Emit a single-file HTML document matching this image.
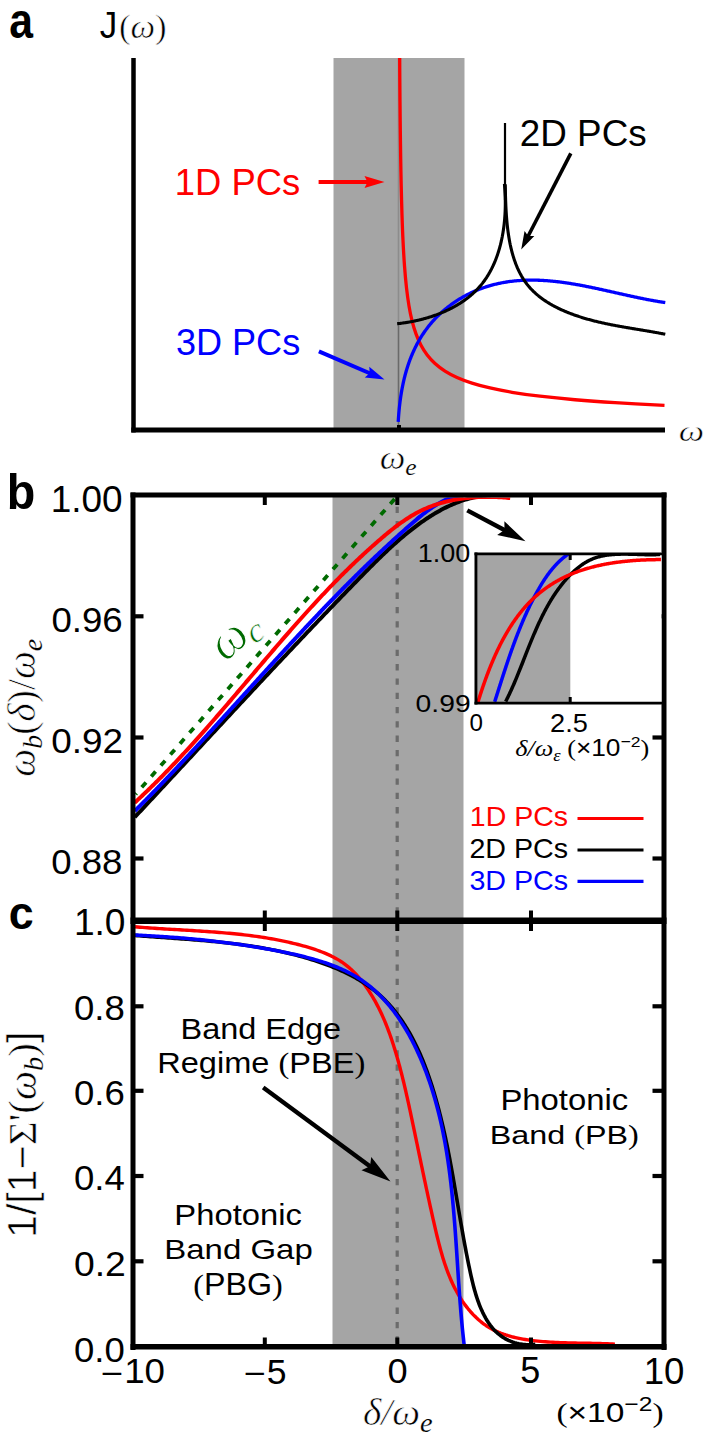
<!DOCTYPE html>
<html><head><meta charset="utf-8"><title>Figure</title>
<style>html,body{margin:0;padding:0;background:#fff;width:708px;height:1439px;overflow:hidden}svg{display:block}</style>
</head><body>
<svg width="708" height="1439" viewBox="0 0 708 1439">
<rect x="333.5" y="58" width="131" height="370" fill="#a5a5a5"/>
<line x1="398.5" y1="58" x2="398.5" y2="324" stroke="#8c8c8c" stroke-width="1.6" />
<line x1="398.5" y1="324" x2="398.5" y2="428" stroke="#6a6a6a" stroke-width="1.6" />
<line x1="133.5" y1="58" x2="133.5" y2="432.5" stroke="#000" stroke-width="4.5" />
<line x1="131.3" y1="430" x2="665" y2="430" stroke="#000" stroke-width="5" />
<path d="M399.70 58.00 C399.72 61.24 399.75 70.13 399.80 77.42 C399.85 84.72 399.92 92.94 400.00 101.77 C400.08 110.59 400.18 120.83 400.30 130.37 C400.42 139.90 400.55 149.81 400.70 158.97 C400.85 168.14 400.98 175.99 401.20 185.35 C401.42 194.71 401.70 205.93 402.00 215.12 C402.30 224.31 402.58 232.04 403.00 240.50 C403.42 248.96 403.92 257.99 404.50 265.88 C405.08 273.78 405.75 281.20 406.50 287.87 C407.25 294.55 408.08 300.49 409.00 305.94 C409.92 311.39 410.83 315.93 412.00 320.59 C413.17 325.25 414.50 329.79 416.00 333.90 C417.50 338.01 419.17 341.79 421.00 345.25 C422.83 348.72 424.67 351.66 427.00 354.70 C429.33 357.73 432.00 360.74 435.00 363.46 C438.00 366.19 441.33 368.72 445.00 371.05 C448.67 373.38 452.50 375.43 457.00 377.44 C461.50 379.45 466.50 381.35 472.00 383.11 C477.50 384.87 483.33 386.45 490.00 387.97 C496.67 389.50 503.67 390.89 512.00 392.27 C520.33 393.64 529.50 394.96 540.00 396.21 C550.50 397.45 562.50 398.66 575.00 399.74 C587.50 400.82 600.08 401.74 615.00 402.68 C629.92 403.61 656.25 404.91 664.50 405.35" fill="none" stroke="#ff0000" stroke-width="3.3" stroke-linejoin="round" />
<path d="M398.21 421.91 L398.26 421.04 L398.31 420.17 L398.37 419.30 L398.43 418.43 L398.49 417.56 L398.55 416.68 L398.62 415.81 L398.69 414.94 L398.76 414.06 L398.83 413.18 L398.91 412.30 L398.99 411.43 L399.07 410.55 L399.15 409.67 L399.24 408.79 L399.33 407.91 L399.42 407.02 L399.52 406.14 L399.62 405.26 L399.72 404.38 L399.83 403.49 L399.93 402.61 L400.04 401.73 L400.16 400.84 L400.28 399.96 L400.40 399.08 L400.52 398.19 L400.65 397.31 L400.78 396.43 L400.91 395.54 L401.05 394.66 L401.19 393.78 L401.34 392.89 L401.49 392.01 L401.64 391.13 L401.79 390.25 L401.95 389.37 L402.12 388.49 L402.28 387.61 L402.45 386.73 L402.63 385.85 L402.81 384.97 L402.99 384.09 L403.18 383.22 L403.37 382.34 L403.56 381.47 L403.76 380.59 L403.96 379.72 L404.17 378.85 L404.38 377.98 L404.60 377.11 L404.82 376.24 L405.04 375.38 L405.27 374.51 L405.51 373.65 L405.74 372.78 L405.99 371.92 L406.23 371.06 L406.49 370.20 L406.74 369.35 L407.00 368.49 L407.27 367.64 L407.54 366.79 L407.82 365.94 L408.10 365.09 L408.38 364.24 L408.67 363.40 L408.97 362.56 L409.27 361.72 L409.57 360.88 L409.88 360.04 L410.20 359.21 L410.52 358.38 L410.84 357.55 L411.17 356.72 L411.51 355.90 L411.85 355.07 L412.19 354.26 L412.54 353.44 L412.90 352.62 L413.26 351.81 L413.62 351.00 L414.00 350.20 L414.37 349.39 L414.75 348.59 L415.14 347.79 L415.53 347.00 L415.93 346.20 L416.33 345.42 L416.74 344.63 L417.15 343.85 L417.57 343.07 L418.00 342.29 L418.43 341.51 L418.86 340.74 L419.30 339.98 L419.75 339.21 L420.20 338.45 L420.66 337.70 L421.12 336.94 L421.59 336.19 L422.06 335.45 L422.54 334.71 L423.03 333.97 L423.52 333.23 L424.02 332.50 L424.52 331.77 L425.03 331.05 L425.54 330.33 L426.06 329.62 L426.59 328.90 L427.12 328.20 L427.66 327.49 L428.20 326.79 L428.74 326.10 L429.30 325.41 L429.86 324.72 L430.42 324.04 L430.99 323.36 L431.56 322.69 L432.14 322.02 L432.73 321.35 L433.32 320.69 L433.91 320.04 L434.51 319.39 L435.12 318.74 L435.73 318.10 L436.34 317.46 L436.96 316.83 L437.59 316.20 L438.22 315.57 L438.85 314.95 L439.49 314.34 L440.14 313.73 L440.78 313.13 L441.44 312.53 L442.10 311.93 L442.76 311.34 L443.43 310.76 L444.10 310.18 L444.78 309.60 L445.46 309.03 L446.15 308.47 L446.84 307.91 L447.53 307.36 L448.23 306.81 L448.94 306.26 L449.65 305.73 L450.36 305.19 L451.07 304.67 L451.80 304.14 L452.52 303.63 L453.25 303.11 L453.98 302.61 L454.72 302.11 L455.46 301.61 L456.20 301.12 L456.95 300.64 L457.70 300.16 L458.46 299.68 L459.22 299.21 L459.98 298.75 L460.74 298.29 L461.51 297.84 L462.28 297.39 L463.06 296.95 L463.84 296.52 L464.62 296.09 L465.40 295.66 L466.19 295.25 L466.98 294.83 L467.78 294.42 L468.58 294.02 L469.37 293.63 L470.18 293.24 L470.98 292.85 L471.79 292.47 L472.60 292.10 L473.41 291.73 L474.23 291.37 L475.05 291.01 L475.87 290.66 L476.69 290.32 L477.52 289.98 L478.34 289.65 L479.17 289.32 L480.01 289.00 L480.84 288.68 L481.68 288.38 L482.51 288.07 L483.35 287.78 L484.20 287.48 L485.04 287.20 L485.89 286.92 L486.73 286.65 L487.58 286.38 L488.43 286.12 L489.28 285.86 L490.14 285.61 L490.99 285.37 L491.85 285.13 L492.71 284.90 L493.56 284.68 L494.43 284.46 L495.29 284.25 L496.15 284.04 L497.01 283.84 L497.88 283.64 L498.75 283.45 L499.61 283.27 L500.48 283.09 L501.35 282.92 L502.22 282.75 L503.09 282.59 L503.96 282.43 L504.84 282.28 L505.71 282.14 L506.59 282.00 L507.46 281.86 L508.34 281.73 L509.21 281.61 L510.09 281.49 L510.97 281.38 L511.85 281.27 L512.73 281.17 L513.61 281.07 L514.49 280.98 L515.37 280.89 L516.25 280.81 L517.13 280.73 L518.01 280.65 L518.90 280.59 L519.78 280.52 L520.66 280.46 L521.55 280.41 L522.43 280.36 L523.31 280.32 L524.20 280.28 L525.08 280.24 L525.96 280.21 L526.85 280.19 L527.73 280.16 L528.61 280.15 L529.50 280.13 L530.38 280.13 L531.27 280.12 L532.15 280.12 L533.03 280.12 L533.92 280.13 L534.80 280.15 L535.69 280.16 L536.57 280.18 L537.46 280.21 L538.34 280.23 L539.22 280.27 L540.11 280.30 L540.99 280.34 L541.88 280.39 L542.76 280.43 L543.65 280.48 L544.53 280.54 L545.42 280.60 L546.30 280.66 L547.19 280.72 L548.07 280.79 L548.96 280.86 L549.84 280.94 L550.73 281.02 L551.61 281.10 L552.50 281.18 L553.38 281.27 L554.27 281.36 L555.15 281.46 L556.03 281.55 L556.92 281.65 L557.80 281.76 L558.69 281.86 L559.57 281.97 L560.46 282.08 L561.34 282.20 L562.23 282.31 L563.11 282.43 L564.00 282.56 L564.88 282.68 L565.76 282.81 L566.65 282.94 L567.53 283.07 L568.42 283.20 L569.30 283.34 L570.18 283.48 L571.07 283.62 L571.95 283.77 L572.84 283.91 L573.72 284.06 L574.60 284.21 L575.49 284.36 L576.37 284.52 L577.25 284.67 L578.14 284.83 L579.02 284.99 L579.90 285.15 L580.78 285.32 L581.67 285.48 L582.55 285.65 L583.43 285.82 L584.31 285.99 L585.19 286.16 L586.08 286.33 L586.96 286.51 L587.84 286.68 L588.72 286.86 L589.60 287.04 L590.48 287.22 L591.36 287.40 L592.25 287.58 L593.13 287.77 L594.01 287.95 L594.89 288.14 L595.77 288.32 L596.65 288.51 L597.53 288.70 L598.41 288.89 L599.29 289.08 L600.16 289.27 L601.04 289.46 L601.92 289.65 L602.80 289.85 L603.68 290.04 L604.56 290.24 L605.43 290.43 L606.31 290.63 L607.19 290.82 L608.07 291.02 L608.94 291.21 L609.82 291.41 L610.70 291.61 L611.57 291.80 L612.45 292.00 L613.32 292.20 L614.20 292.40 L615.08 292.59 L615.95 292.79 L616.82 292.99 L617.70 293.19 L618.57 293.38 L619.45 293.58 L620.32 293.78 L621.19 293.97 L622.07 294.17 L622.94 294.37 L623.81 294.56 L624.68 294.76 L625.56 294.95 L626.43 295.14 L627.30 295.34 L628.17 295.53 L629.04 295.72 L629.91 295.91 L630.78 296.10 L631.65 296.29 L632.52 296.48 L633.39 296.67 L634.26 296.85 L635.13 297.04 L635.99 297.22 L636.86 297.41 L637.73 297.59 L638.60 297.77 L639.46 297.95 L640.33 298.13 L641.19 298.31 L642.06 298.48 L642.93 298.66 L643.79 298.83 L644.65 299.00 L645.52 299.17 L646.38 299.34 L647.25 299.51 L648.11 299.67 L648.97 299.84 L649.83 300.00 L650.69 300.16 L651.56 300.32 L652.42 300.47 L653.28 300.63 L654.14 300.78 L655.00 300.93 L655.86 301.08 L656.71 301.22 L657.57 301.37 L658.43 301.51 L659.29 301.65 L660.15 301.78 L661.00 301.92 L661.86 302.05 L662.71 302.18 L663.57 302.31 L664.42 302.43 L665.28 302.55" fill="none" stroke="#0000ff" stroke-width="3.3" stroke-linejoin="round" />
<path d="M397.18 323.71 L397.84 323.64 L398.50 323.57 L399.16 323.49 L399.82 323.42 L400.49 323.34 L401.15 323.25 L401.81 323.17 L402.48 323.08 L403.14 322.99 L403.81 322.90 L404.48 322.80 L405.14 322.70 L405.81 322.60 L406.47 322.49 L407.14 322.39 L407.81 322.28 L408.48 322.16 L409.14 322.05 L409.81 321.93 L410.48 321.81 L411.15 321.69 L411.82 321.56 L412.48 321.43 L413.15 321.30 L413.82 321.16 L414.49 321.02 L415.16 320.88 L415.82 320.74 L416.49 320.59 L417.16 320.45 L417.82 320.29 L418.49 320.14 L419.16 319.98 L419.82 319.82 L420.49 319.66 L421.15 319.49 L421.82 319.32 L422.48 319.15 L423.14 318.98 L423.80 318.80 L424.47 318.62 L425.13 318.43 L425.79 318.25 L426.45 318.06 L427.10 317.87 L427.76 317.67 L428.42 317.47 L429.08 317.27 L429.73 317.07 L430.38 316.86 L431.04 316.65 L431.69 316.44 L432.34 316.22 L432.99 316.00 L433.64 315.78 L434.29 315.56 L434.93 315.33 L435.58 315.10 L436.22 314.86 L436.86 314.63 L437.50 314.39 L438.14 314.14 L438.78 313.90 L439.42 313.65 L440.05 313.40 L440.69 313.14 L441.32 312.88 L441.95 312.62 L442.58 312.36 L443.21 312.09 L443.83 311.82 L444.45 311.55 L445.08 311.27 L445.70 310.99 L446.31 310.71 L446.93 310.42 L447.54 310.13 L448.16 309.84 L448.77 309.55 L449.37 309.25 L449.98 308.95 L450.58 308.64 L451.19 308.33 L451.79 308.02 L452.38 307.71 L452.98 307.39 L453.57 307.07 L454.16 306.75 L454.75 306.42 L455.33 306.09 L455.92 305.76 L456.50 305.42 L457.08 305.08 L457.65 304.74 L458.22 304.39 L458.80 304.04 L459.36 303.69 L459.93 303.33 L460.49 302.98 L461.05 302.61 L461.61 302.25 L462.16 301.88 L462.71 301.51 L463.26 301.13 L463.80 300.75 L464.35 300.37 L464.89 299.99 L465.42 299.60 L465.95 299.21 L466.48 298.81 L467.01 298.41 L467.53 298.01 L468.05 297.60 L468.57 297.20 L469.09 296.78 L469.60 296.37 L470.10 295.95 L470.61 295.53 L471.11 295.10 L471.60 294.67 L472.10 294.24 L472.59 293.81 L473.07 293.37 L473.55 292.93 L474.03 292.48 L474.51 292.03 L474.98 291.58 L475.45 291.12 L475.91 290.66 L476.37 290.20 L476.83 289.73 L477.28 289.26 L477.73 288.79 L478.17 288.32 L478.61 287.83 L479.05 287.35 L479.48 286.86 L479.91 286.37 L480.33 285.88 L480.75 285.38 L481.16 284.88 L481.58 284.38 L481.98 283.87 L482.39 283.36 L482.78 282.84 L483.18 282.33 L483.57 281.81 L483.96 281.28 L484.34 280.76 L484.72 280.23 L485.09 279.69 L485.46 279.16 L485.83 278.62 L486.19 278.07 L486.55 277.53 L486.91 276.98 L487.26 276.43 L487.61 275.87 L487.95 275.32 L488.29 274.76 L488.63 274.19 L488.96 273.63 L489.29 273.06 L489.61 272.49 L489.93 271.92 L490.25 271.34 L490.56 270.76 L490.87 270.18 L491.17 269.60 L491.48 269.01 L491.77 268.42 L492.07 267.83 L492.36 267.24 L492.65 266.64 L492.93 266.04 L493.21 265.44 L493.48 264.84 L493.76 264.23 L494.03 263.62 L494.29 263.02 L494.55 262.40 L494.81 261.79 L495.07 261.17 L495.32 260.56 L495.56 259.93 L495.81 259.31 L496.05 258.69 L496.29 258.06 L496.52 257.43 L496.75 256.80 L496.98 256.17 L497.20 255.54 L497.42 254.90 L497.64 254.27 L497.85 253.63 L498.06 252.99 L498.27 252.35 L498.47 251.70 L498.67 251.06 L498.87 250.41 L499.06 249.76 L499.25 249.11 L499.44 248.46 L499.62 247.81 L499.80 247.15 L499.98 246.50 L500.15 245.84 L500.33 245.18 L500.49 244.52 L500.66 243.86 L500.82 243.20 L500.98 242.54 L501.13 241.88 L501.29 241.21 L501.43 240.54 L501.58 239.88 L501.72 239.21 L501.86 238.54 L502.00 237.87 L502.13 237.20 L502.27 236.52 L502.39 235.85 L502.52 235.18 L502.64 234.50 L502.76 233.83 L502.88 233.15 L502.99 232.48 L503.10 231.80 L503.21 231.12 L503.31 230.44 L503.41 229.76 L503.51 229.08 L503.61 228.40 L503.70 227.72 L503.79 227.04 L503.88 226.36 L503.96 225.68 L504.05 224.99 L504.13 224.31 L504.20 223.63 L504.28 222.95 L504.35 222.26 L504.42 221.58 L504.48 220.89 L504.55 220.21 L504.61 219.53 L504.67 218.84 L504.72 218.16 L504.77 217.47 L504.82 216.79 L504.87 216.11 L504.92 215.42 L504.96 214.74 L505.00 214.06 L505.04 213.37 L505.07 212.69 L505.11 212.01 L505.14 211.32 L505.16 210.64 L505.19 209.96 L505.21 209.28 L505.23 208.60 L505.25 207.92 L505.27 207.24 L505.28 206.56 L505.29 205.88 L505.30 205.20 L505.31 204.52 L505.31 203.84 L505.31 203.17 L505.31 202.49 L505.31 201.81 L505.30 201.14 L505.30 200.47 L505.29 199.79 L505.27 199.12 L505.26 198.45 L505.24 197.78 L505.23 197.11 L505.21 196.44 L505.18 195.78 L505.16 195.11 L505.13 194.44 L505.10 193.78 L505.07 193.12 L505.04 192.46 L505.00 191.79 L504.97 191.14 L504.93 190.48 L504.89 189.82 L504.84 189.17 L504.80 188.51 L504.75 187.86 L504.70 187.21 L504.65 186.56 L504.60 185.91 L504.54 185.26 L504.49 184.62 L504.43 183.97" fill="none" stroke="#000" stroke-width="3.1" stroke-linejoin="round" />
<path d="M505.21 184.26 L505.23 185.03 L505.25 185.81 L505.26 186.59 L505.28 187.37 L505.30 188.16 L505.32 188.95 L505.33 189.75 L505.35 190.55 L505.37 191.35 L505.39 192.16 L505.41 192.97 L505.43 193.78 L505.45 194.60 L505.48 195.42 L505.50 196.24 L505.52 197.07 L505.55 197.90 L505.58 198.73 L505.60 199.57 L505.63 200.40 L505.66 201.24 L505.69 202.09 L505.73 202.93 L505.76 203.78 L505.80 204.63 L505.83 205.48 L505.87 206.33 L505.91 207.19 L505.96 208.05 L506.00 208.91 L506.05 209.77 L506.10 210.63 L506.15 211.49 L506.20 212.36 L506.26 213.23 L506.31 214.10 L506.37 214.97 L506.43 215.84 L506.50 216.71 L506.57 217.58 L506.64 218.46 L506.71 219.33 L506.78 220.20 L506.86 221.08 L506.94 221.96 L507.02 222.83 L507.11 223.71 L507.20 224.59 L507.29 225.46 L507.39 226.34 L507.49 227.22 L507.59 228.10 L507.69 228.97 L507.80 229.85 L507.92 230.73 L508.03 231.60 L508.15 232.48 L508.28 233.35 L508.40 234.23 L508.53 235.10 L508.67 235.97 L508.81 236.84 L508.95 237.71 L509.10 238.58 L509.25 239.45 L509.40 240.31 L509.56 241.18 L509.73 242.04 L509.89 242.90 L510.07 243.76 L510.24 244.62 L510.43 245.48 L510.61 246.33 L510.80 247.19 L511.00 248.04 L511.20 248.88 L511.41 249.73 L511.62 250.57 L511.83 251.41 L512.05 252.25 L512.28 253.09 L512.51 253.92 L512.75 254.75 L512.99 255.58 L513.24 256.40 L513.49 257.22 L513.75 258.04 L514.01 258.85 L514.28 259.67 L514.56 260.47 L514.84 261.28 L515.13 262.08 L515.42 262.87 L515.72 263.67 L516.02 264.46 L516.33 265.24 L516.65 266.02 L516.98 266.80 L517.31 267.57 L517.64 268.34 L517.99 269.10 L518.34 269.86 L518.69 270.62 L519.05 271.37 L519.42 272.11 L519.80 272.85 L520.18 273.59 L520.57 274.32 L520.97 275.05 L521.37 275.77 L521.79 276.48 L522.20 277.19 L522.63 277.90 L523.06 278.59 L523.50 279.29 L523.95 279.97 L524.41 280.66 L524.87 281.33 L525.34 282.00 L525.82 282.66 L526.30 283.32 L526.80 283.97 L527.30 284.62 L527.81 285.25 L528.33 285.89 L528.85 286.51 L529.39 287.13 L529.93 287.74 L530.47 288.35 L531.03 288.95 L531.59 289.54 L532.16 290.13 L532.74 290.71 L533.33 291.29 L533.92 291.86 L534.52 292.42 L535.12 292.98 L535.73 293.53 L536.35 294.07 L536.98 294.61 L537.61 295.15 L538.25 295.67 L538.89 296.20 L539.54 296.71 L540.20 297.22 L540.86 297.73 L541.53 298.23 L542.20 298.72 L542.88 299.21 L543.56 299.69 L544.25 300.17 L544.95 300.64 L545.65 301.10 L546.35 301.57 L547.06 302.02 L547.78 302.47 L548.50 302.92 L549.22 303.36 L549.95 303.79 L550.68 304.22 L551.42 304.64 L552.16 305.06 L552.91 305.48 L553.66 305.89 L554.41 306.29 L555.17 306.69 L555.93 307.09 L556.70 307.48 L557.46 307.86 L558.24 308.24 L559.01 308.62 L559.79 308.99 L560.57 309.36 L561.36 309.72 L562.15 310.08 L562.94 310.43 L563.73 310.78 L564.53 311.12 L565.33 311.46 L566.13 311.80 L566.93 312.13 L567.74 312.46 L568.54 312.78 L569.35 313.10 L570.17 313.41 L570.98 313.72 L571.79 314.03 L572.61 314.33 L573.43 314.63 L574.25 314.93 L575.07 315.22 L575.89 315.50 L576.72 315.79 L577.54 316.07 L578.37 316.34 L579.20 316.61 L580.02 316.88 L580.85 317.14 L581.68 317.41 L582.51 317.66 L583.34 317.92 L584.17 318.17 L585.00 318.41 L585.84 318.66 L586.67 318.90 L587.50 319.14 L588.34 319.37 L589.17 319.60 L590.01 319.83 L590.84 320.05 L591.68 320.28 L592.52 320.50 L593.36 320.71 L594.19 320.93 L595.03 321.14 L595.87 321.34 L596.71 321.55 L597.55 321.75 L598.39 321.95 L599.23 322.15 L600.07 322.35 L600.92 322.54 L601.76 322.73 L602.60 322.92 L603.44 323.10 L604.29 323.29 L605.13 323.47 L605.97 323.65 L606.82 323.83 L607.66 324.00 L608.50 324.18 L609.35 324.35 L610.19 324.52 L611.03 324.69 L611.88 324.86 L612.72 325.02 L613.57 325.18 L614.41 325.35 L615.26 325.51 L616.10 325.66 L616.95 325.82 L617.79 325.98 L618.64 326.13 L619.48 326.29 L620.32 326.44 L621.17 326.59 L622.01 326.74 L622.86 326.89 L623.70 327.03 L624.54 327.18 L625.39 327.33 L626.23 327.47 L627.07 327.62 L627.92 327.76 L628.76 327.90 L629.60 328.05 L630.44 328.19 L631.28 328.33 L632.13 328.47 L632.97 328.61 L633.81 328.75 L634.65 328.89 L635.49 329.03 L636.33 329.16 L637.16 329.30 L638.00 329.44 L638.84 329.58 L639.68 329.72 L640.51 329.85 L641.35 329.99 L642.19 330.13 L643.02 330.27 L643.86 330.41 L644.69 330.55 L645.52 330.69 L646.36 330.83 L647.19 330.97 L648.02 331.11 L648.85 331.25 L649.68 331.39 L650.51 331.53 L651.34 331.67 L652.16 331.82 L652.99 331.96 L653.82 332.10 L654.64 332.25 L655.46 332.40 L656.29 332.55 L657.11 332.69 L657.93 332.84 L658.75 332.99 L659.57 333.15 L660.39 333.30 L661.21 333.45 L662.02 333.61 L662.84 333.77 L663.65 333.93 L664.47 334.09 L665.28 334.25" fill="none" stroke="#000" stroke-width="3.1" stroke-linejoin="round" />
<line x1="505" y1="123" x2="505" y2="200" stroke="#000" stroke-width="2.2" />
<rect x="397" y="425" width="4" height="4" fill="#000"/>
<line x1="318.6" y1="182" x2="369.5" y2="182.0" stroke="#ff0000" stroke-width="4" />
<polygon points="384.50,182.00 364.50,188.00 367.50,182.00 364.50,176.00" fill="#ff0000"/>
<line x1="318.9" y1="351.4" x2="371.50025574692813" y2="374.0116953058441" stroke="#0000ff" stroke-width="4" />
<polygon points="384.50,379.60 364.77,377.38 369.66,373.22 369.32,366.81" fill="#0000ff"/>
<line x1="570.8" y1="153.4" x2="527.2949421159113" y2="237.7787614606721" stroke="#000" stroke-width="3.6" />
<polygon points="521.20,249.60 524.56,231.08 528.21,236.00 534.34,236.12" fill="#000"/>
<rect x="332.5" y="495" width="131" height="851" fill="#a5a5a5"/>
<line x1="397.2" y1="497" x2="397.2" y2="1345" stroke="#6b6b6b" stroke-width="3.2" stroke-dasharray="6.3 8" stroke-dashoffset="4.5"/>
<path d="M135.70 794.20 L396.20 497.20" fill="none" stroke="#006a00" stroke-width="3.8" stroke-linejoin="round" stroke-dasharray="6.5 8" stroke-dashoffset="5.35"/>
<clipPath id="bclip"><rect x="135" y="497.6" width="527" height="420"/></clipPath>
<path d="M134.76 817.17 L135.91 815.94 L137.05 814.71 L138.20 813.48 L139.35 812.25 L140.49 811.02 L141.64 809.80 L142.78 808.57 L143.93 807.34 L145.07 806.11 L146.22 804.89 L147.36 803.66 L148.50 802.43 L149.64 801.21 L150.78 799.98 L151.92 798.76 L153.06 797.53 L154.20 796.31 L155.34 795.08 L156.48 793.86 L157.62 792.63 L158.76 791.41 L159.90 790.19 L161.03 788.96 L162.17 787.74 L163.30 786.52 L164.44 785.29 L165.58 784.07 L166.71 782.85 L167.85 781.63 L168.98 780.41 L170.11 779.19 L171.25 777.97 L172.38 776.75 L173.51 775.53 L174.65 774.31 L175.78 773.09 L176.91 771.87 L178.04 770.65 L179.17 769.43 L180.30 768.21 L181.43 766.99 L182.56 765.78 L183.69 764.56 L184.82 763.34 L185.95 762.12 L187.08 760.91 L188.21 759.69 L189.34 758.47 L190.47 757.26 L191.59 756.04 L192.72 754.83 L193.85 753.61 L194.98 752.40 L196.10 751.18 L197.23 749.97 L198.36 748.75 L199.49 747.54 L200.61 746.32 L201.74 745.11 L202.86 743.89 L203.99 742.68 L205.12 741.47 L206.24 740.26 L207.37 739.04 L208.49 737.83 L209.62 736.62 L210.74 735.41 L211.87 734.19 L212.99 732.98 L214.12 731.77 L215.24 730.56 L216.37 729.35 L217.49 728.14 L218.62 726.93 L219.74 725.72 L220.87 724.51 L221.99 723.29 L223.11 722.08 L224.24 720.88 L225.36 719.67 L226.49 718.46 L227.61 717.25 L228.74 716.04 L229.86 714.83 L230.98 713.62 L232.11 712.41 L233.23 711.20 L234.36 710.00 L235.48 708.79 L236.61 707.58 L237.73 706.37 L238.86 705.16 L239.98 703.96 L241.11 702.75 L242.23 701.54 L243.36 700.34 L244.48 699.13 L245.61 697.92 L246.73 696.72 L247.86 695.51 L248.98 694.30 L250.11 693.10 L251.23 691.89 L252.36 690.69 L253.49 689.48 L254.61 688.27 L255.74 687.07 L256.87 685.86 L257.99 684.66 L259.12 683.45 L260.25 682.25 L261.37 681.04 L262.50 679.84 L263.63 678.64 L264.76 677.43 L265.89 676.23 L267.02 675.02 L268.14 673.82 L269.27 672.62 L270.40 671.41 L271.53 670.21 L272.66 669.00 L273.79 667.80 L274.92 666.60 L276.05 665.39 L277.19 664.19 L278.32 662.99 L279.45 661.79 L280.58 660.58 L281.71 659.38 L282.85 658.18 L283.98 656.97 L285.11 655.77 L286.25 654.57 L287.38 653.37 L288.52 652.17 L289.65 650.96 L290.79 649.76 L291.92 648.56 L293.06 647.36 L294.20 646.16 L295.33 644.95 L296.47 643.75 L297.61 642.55 L298.75 641.35 L299.89 640.15 L301.03 638.95 L302.17 637.74 L303.31 636.54 L304.45 635.34 L305.59 634.14 L306.73 632.94 L307.87 631.74 L309.02 630.54 L310.16 629.34 L311.30 628.13 L312.45 626.93 L313.59 625.73 L314.74 624.53 L315.88 623.33 L317.03 622.13 L318.18 620.93 L319.33 619.73 L320.47 618.53 L321.62 617.33 L322.77 616.13 L323.92 614.93 L325.07 613.73 L326.23 612.52 L327.38 611.32 L328.53 610.12 L329.68 608.92 L330.84 607.72 L331.99 606.52 L333.15 605.32 L334.30 604.12 L335.46 602.92 L336.62 601.72 L337.78 600.52 L338.94 599.32 L340.09 598.12 L341.26 596.92 L342.42 595.72 L343.58 594.52 L344.74 593.32 L345.90 592.12 L347.07 590.92 L348.23 589.71 L349.40 588.51 L350.56 587.31 L351.73 586.11 L352.90 584.91 L354.07 583.71 L355.24 582.51 L356.41 581.31 L357.58 580.11 L358.75 578.91 L359.92 577.71 L361.10 576.51 L362.27 575.31 L363.45 574.11 L364.62 572.91 L365.80 571.71 L366.98 570.51 L368.16 569.32 L369.35 568.12 L370.53 566.93 L371.72 565.74 L372.91 564.55 L374.10 563.37 L375.29 562.18 L376.48 561.00 L377.68 559.82 L378.88 558.65 L380.08 557.48 L381.29 556.31 L382.49 555.15 L383.70 553.99 L384.92 552.83 L386.13 551.68 L387.35 550.53 L388.57 549.39 L389.80 548.25 L391.03 547.12 L392.26 545.99 L393.50 544.87 L394.74 543.75 L395.98 542.64 L397.23 541.54 L398.48 540.44 L399.74 539.35 L401.00 538.26 L402.26 537.18 L403.53 536.11 L404.81 535.05 L406.09 533.99 L407.37 532.94 L408.66 531.90 L409.95 530.87 L411.25 529.85 L412.55 528.83 L413.86 527.82 L415.17 526.82 L416.49 525.83 L417.82 524.85 L419.15 523.88 L420.48 522.92 L421.82 521.97 L423.17 521.03 L424.52 520.10 L425.88 519.18 L427.25 518.27 L428.62 517.37 L430.00 516.48 L431.39 515.61 L432.78 514.74 L434.18 513.89 L435.58 513.06 L437.00 512.23 L438.41 511.43 L439.84 510.63 L441.27 509.85 L442.72 509.09 L444.16 508.34 L445.62 507.60 L447.08 506.89 L448.55 506.19 L450.03 505.50 L451.52 504.84 L453.01 504.19 L454.52 503.56 L456.03 502.95 L457.54 502.36 L459.07 501.79 L460.61 501.24 L462.15 500.71 L463.70 500.20 L465.27 499.71 L466.84 499.24 L468.41 498.80 L470.00 498.37 L471.60 497.97 L473.21 497.60 L474.82 497.24 L476.45 496.91 L478.08 496.61 L479.72 496.33 L481.38 496.07 L483.04 495.84 L484.71 495.64 L486.40 495.46 L488.09 495.31 L489.79 495.19 L491.51 495.09 L493.23 495.03 L494.97 494.99 L496.71 494.98 L498.47 495.00 L500.23 495.04" fill="none" stroke="#000" stroke-width="4.0" stroke-linejoin="round" clip-path="url(#bclip)"/>
<path d="M134.71 811.06 L135.81 809.97 L136.91 808.87 L138.02 807.77 L139.12 806.67 L140.21 805.57 L141.31 804.46 L142.41 803.36 L143.51 802.25 L144.60 801.15 L145.70 800.04 L146.79 798.93 L147.88 797.82 L148.97 796.71 L150.06 795.60 L151.15 794.49 L152.24 793.38 L153.33 792.26 L154.42 791.15 L155.50 790.03 L156.59 788.91 L157.67 787.79 L158.75 786.67 L159.84 785.55 L160.92 784.43 L162.00 783.31 L163.08 782.19 L164.16 781.06 L165.24 779.94 L166.31 778.81 L167.39 777.69 L168.47 776.56 L169.54 775.43 L170.62 774.30 L171.69 773.18 L172.76 772.04 L173.84 770.91 L174.91 769.78 L175.98 768.65 L177.05 767.52 L178.12 766.38 L179.19 765.25 L180.26 764.11 L181.32 762.98 L182.39 761.84 L183.46 760.70 L184.52 759.56 L185.59 758.42 L186.65 757.29 L187.72 756.14 L188.78 755.00 L189.84 753.86 L190.91 752.72 L191.97 751.58 L193.03 750.44 L194.09 749.29 L195.15 748.15 L196.21 747.00 L197.27 745.86 L198.33 744.71 L199.39 743.57 L200.45 742.42 L201.50 741.27 L202.56 740.12 L203.62 738.98 L204.67 737.83 L205.73 736.68 L206.79 735.53 L207.84 734.38 L208.90 733.23 L209.95 732.08 L211.01 730.93 L212.06 729.78 L213.11 728.63 L214.17 727.47 L215.22 726.32 L216.27 725.17 L217.32 724.02 L218.38 722.86 L219.43 721.71 L220.48 720.55 L221.53 719.40 L222.58 718.25 L223.63 717.09 L224.69 715.94 L225.74 714.78 L226.79 713.63 L227.84 712.47 L228.89 711.32 L229.94 710.16 L230.99 709.00 L232.04 707.85 L233.09 706.69 L234.14 705.54 L235.19 704.38 L236.24 703.22 L237.28 702.07 L238.33 700.91 L239.38 699.75 L240.43 698.60 L241.48 697.44 L242.53 696.28 L243.58 695.12 L244.63 693.97 L245.68 692.81 L246.73 691.65 L247.78 690.50 L248.83 689.34 L249.88 688.18 L250.92 687.03 L251.97 685.87 L253.02 684.71 L254.07 683.56 L255.12 682.40 L256.17 681.24 L257.22 680.09 L258.27 678.93 L259.32 677.78 L260.37 676.62 L261.42 675.46 L262.48 674.31 L263.53 673.15 L264.58 672.00 L265.63 670.84 L266.68 669.69 L267.73 668.53 L268.78 667.38 L269.84 666.23 L270.89 665.07 L271.94 663.92 L273.00 662.77 L274.05 661.61 L275.10 660.46 L276.16 659.31 L277.21 658.16 L278.27 657.01 L279.32 655.86 L280.38 654.70 L281.43 653.55 L282.49 652.40 L283.55 651.26 L284.60 650.11 L285.66 648.96 L286.72 647.81 L287.78 646.66 L288.84 645.51 L289.90 644.37 L290.96 643.22 L292.02 642.08 L293.08 640.93 L294.14 639.79 L295.20 638.64 L296.26 637.50 L297.32 636.35 L298.39 635.21 L299.45 634.07 L300.52 632.93 L301.58 631.79 L302.65 630.65 L303.71 629.51 L304.78 628.37 L305.85 627.23 L306.92 626.09 L307.98 624.96 L309.05 623.82 L310.12 622.69 L311.19 621.55 L312.27 620.42 L313.34 619.28 L314.41 618.15 L315.48 617.02 L316.56 615.89 L317.63 614.76 L318.71 613.63 L319.79 612.50 L320.86 611.37 L321.94 610.24 L323.02 609.12 L324.10 607.99 L325.18 606.87 L326.26 605.74 L327.34 604.62 L328.43 603.50 L329.51 602.38 L330.59 601.26 L331.68 600.14 L332.77 599.02 L333.85 597.90 L334.94 596.79 L336.03 595.67 L337.12 594.55 L338.21 593.44 L339.30 592.33 L340.40 591.22 L341.49 590.11 L342.58 589.00 L343.68 587.89 L344.78 586.78 L345.87 585.68 L346.97 584.57 L348.07 583.47 L349.17 582.36 L350.28 581.26 L351.38 580.16 L352.48 579.06 L353.59 577.96 L354.69 576.86 L355.80 575.77 L356.91 574.67 L358.02 573.58 L359.13 572.49 L360.24 571.39 L361.36 570.30 L362.47 569.22 L363.59 568.13 L364.70 567.04 L365.82 565.96 L366.94 564.87 L368.06 563.79 L369.18 562.71 L370.30 561.63 L371.43 560.55 L372.55 559.47 L373.68 558.40 L374.81 557.32 L375.94 556.25 L377.07 555.18 L378.20 554.11 L379.33 553.04 L380.47 551.97 L381.60 550.90 L382.74 549.84 L383.88 548.78 L385.02 547.71 L386.16 546.65 L387.30 545.59 L388.44 544.54 L389.59 543.48 L390.74 542.43 L391.88 541.37 L393.03 540.32 L394.19 539.27 L395.34 538.22 L396.49 537.18 L397.65 536.13 L398.81 535.09 L399.96 534.05 L401.12 533.01 L402.29 531.97 L403.45 530.93 L404.61 529.90 L405.78 528.86 L406.95 527.83 L408.12 526.80 L409.29 525.77 L410.46 524.75 L411.64 523.72 L412.81 522.70 L413.99 521.68 L415.18 520.66 L416.36 519.65 L417.55 518.65 L418.74 517.65 L419.94 516.66 L421.14 515.68 L422.35 514.71 L423.56 513.75 L424.78 512.80 L426.01 511.87 L427.25 510.94 L428.49 510.03 L429.74 509.14 L431.00 508.26 L432.26 507.40 L433.54 506.56 L434.83 505.73 L436.13 504.93 L437.43 504.14 L438.75 503.38 L440.09 502.64 L441.43 501.92 L442.78 501.23 L444.15 500.56 L445.54 499.92 L446.93 499.30 L448.34 498.71 L449.77 498.15 L451.21 497.62 L452.66 497.12 L454.14 496.66 L455.62 496.22 L457.13 495.82 L458.65 495.45 L460.19 495.12 L461.75 494.82 L463.33 494.56 L464.93 494.33 L466.54 494.15 L468.18 494.00 L469.84 493.90" fill="none" stroke="#0000ff" stroke-width="4.0" stroke-linejoin="round" clip-path="url(#bclip)"/>
<path d="M134.55 802.82 L135.79 801.68 L137.02 800.55 L138.24 799.41 L139.47 798.26 L140.69 797.12 L141.91 795.97 L143.13 794.82 L144.34 793.67 L145.55 792.51 L146.76 791.35 L147.96 790.19 L149.17 789.02 L150.37 787.86 L151.57 786.69 L152.76 785.51 L153.95 784.34 L155.15 783.16 L156.33 781.98 L157.52 780.80 L158.70 779.61 L159.88 778.43 L161.06 777.24 L162.24 776.05 L163.41 774.85 L164.59 773.65 L165.76 772.46 L166.92 771.26 L168.09 770.05 L169.25 768.85 L170.41 767.64 L171.57 766.43 L172.73 765.22 L173.89 764.00 L175.04 762.79 L176.19 761.57 L177.34 760.35 L178.49 759.13 L179.63 757.91 L180.78 756.68 L181.92 755.46 L183.06 754.23 L184.20 753.00 L185.34 751.76 L186.47 750.53 L187.61 749.29 L188.74 748.06 L189.87 746.82 L191.00 745.58 L192.13 744.34 L193.25 743.09 L194.38 741.85 L195.50 740.60 L196.62 739.35 L197.74 738.10 L198.86 736.85 L199.98 735.60 L201.09 734.34 L202.21 733.09 L203.32 731.83 L204.44 730.58 L205.55 729.32 L206.66 728.06 L207.77 726.80 L208.88 725.53 L209.98 724.27 L211.09 723.01 L212.19 721.74 L213.30 720.48 L214.40 719.21 L215.50 717.94 L216.60 716.67 L217.70 715.40 L218.80 714.13 L219.90 712.86 L221.00 711.58 L222.10 710.31 L223.19 709.04 L224.29 707.76 L225.38 706.49 L226.48 705.21 L227.57 703.93 L228.67 702.66 L229.76 701.38 L230.85 700.10 L231.94 698.82 L233.03 697.54 L234.13 696.26 L235.22 694.98 L236.31 693.70 L237.40 692.42 L238.49 691.14 L239.57 689.85 L240.66 688.57 L241.75 687.29 L242.84 686.01 L243.93 684.72 L245.02 683.44 L246.10 682.16 L247.19 680.88 L248.28 679.59 L249.37 678.31 L250.46 677.03 L251.54 675.74 L252.63 674.46 L253.72 673.18 L254.81 671.89 L255.90 670.61 L256.98 669.33 L258.07 668.04 L259.16 666.76 L260.25 665.48 L261.34 664.20 L262.43 662.92 L263.52 661.64 L264.61 660.35 L265.70 659.07 L266.79 657.79 L267.88 656.51 L268.98 655.23 L270.07 653.96 L271.16 652.68 L272.26 651.40 L273.35 650.12 L274.44 648.85 L275.54 647.57 L276.64 646.30 L277.73 645.02 L278.83 643.75 L279.93 642.48 L281.03 641.20 L282.13 639.93 L283.23 638.66 L284.33 637.39 L285.44 636.13 L286.54 634.86 L287.64 633.59 L288.75 632.33 L289.86 631.06 L290.96 629.80 L292.07 628.54 L293.18 627.28 L294.29 626.02 L295.41 624.76 L296.52 623.50 L297.64 622.24 L298.75 620.99 L299.87 619.73 L300.99 618.48 L302.11 617.23 L303.23 615.98 L304.35 614.73 L305.48 613.49 L306.60 612.24 L307.73 611.00 L308.86 609.75 L309.99 608.51 L311.12 607.27 L312.25 606.04 L313.39 604.80 L314.53 603.57 L315.66 602.34 L316.80 601.10 L317.95 599.88 L319.09 598.65 L320.24 597.42 L321.38 596.20 L322.53 594.98 L323.68 593.76 L324.84 592.54 L325.99 591.33 L327.15 590.11 L328.31 588.90 L329.47 587.69 L330.63 586.48 L331.80 585.28 L332.96 584.07 L334.13 582.87 L335.30 581.67 L336.48 580.48 L337.65 579.28 L338.83 578.09 L340.01 576.90 L341.20 575.71 L342.38 574.53 L343.57 573.35 L344.76 572.17 L345.95 570.99 L347.15 569.81 L348.34 568.64 L349.54 567.47 L350.75 566.30 L351.95 565.14 L353.16 563.98 L354.37 562.82 L355.58 561.66 L356.80 560.51 L358.02 559.36 L359.24 558.21 L360.46 557.06 L361.69 555.92 L362.92 554.78 L364.15 553.64 L365.39 552.51 L366.63 551.38 L367.87 550.25 L369.11 549.12 L370.36 548.00 L371.61 546.88 L372.86 545.77 L374.12 544.65 L375.38 543.55 L376.64 542.44 L377.91 541.34 L379.18 540.24 L380.45 539.14 L381.72 538.05 L383.00 536.96 L384.29 535.87 L385.57 534.79 L386.86 533.72 L388.16 532.65 L389.46 531.59 L390.77 530.54 L392.08 529.50 L393.40 528.46 L394.72 527.44 L396.05 526.42 L397.38 525.41 L398.72 524.42 L400.07 523.44 L401.43 522.47 L402.79 521.51 L404.16 520.57 L405.54 519.64 L406.93 518.72 L408.32 517.83 L409.73 516.94 L411.14 516.08 L412.56 515.23 L413.99 514.40 L415.43 513.59 L416.88 512.79 L418.34 512.02 L419.82 511.27 L421.30 510.53 L422.79 509.82 L424.29 509.13 L425.81 508.47 L427.33 507.82 L428.86 507.19 L430.41 506.59 L431.96 506.00 L433.52 505.43 L435.09 504.89 L436.67 504.36 L438.26 503.86 L439.85 503.37 L441.45 502.90 L443.06 502.45 L444.68 502.02 L446.30 501.61 L447.93 501.22 L449.56 500.84 L451.20 500.49 L452.85 500.15 L454.50 499.83 L456.16 499.53 L457.82 499.24 L459.49 498.97 L461.16 498.72 L462.83 498.49 L464.51 498.27 L466.19 498.07 L467.88 497.89 L469.57 497.72 L471.26 497.57 L472.95 497.43 L474.64 497.31 L476.34 497.20 L478.04 497.11 L479.74 497.04 L481.44 496.98 L483.14 496.93 L484.84 496.90 L486.54 496.89 L488.24 496.89 L489.94 496.90 L491.64 496.92 L493.34 496.96 L495.03 497.02 L496.73 497.08 L498.42 497.16 L500.12 497.26 L501.80 497.36 L503.49 497.48 L505.18 497.61 L506.86 497.75 L508.53 497.91 L510.21 498.07" fill="none" stroke="#ff0000" stroke-width="4.0" stroke-linejoin="round" clip-path="url(#bclip)"/>
<line x1="467.3" y1="510.4" x2="506.2318130602909" y2="531.0030900731437" stroke="#000" stroke-width="4.4" />
<polygon points="525.50,541.20 497.13,534.95 504.46,530.07 504.38,521.25" fill="#000"/>
<line x1="577.5" y1="818.5" x2="643.5" y2="818.5" stroke="#ff0000" stroke-width="3.2" />
<line x1="577.5" y1="850" x2="643.5" y2="850" stroke="#000" stroke-width="3.2" />
<line x1="577.5" y1="881.3" x2="643.5" y2="881.3" stroke="#0000ff" stroke-width="3.2" />
<clipPath id="cclip"><rect x="135" y="924" width="527" height="420"/></clipPath>
<path d="M135.06 926.80 L137.52 927.01 L139.97 927.21 L142.43 927.40 L144.89 927.59 L147.36 927.78 L149.82 927.95 L152.29 928.13 L154.76 928.29 L157.23 928.46 L159.71 928.62 L162.18 928.78 L164.66 928.93 L167.13 929.08 L169.61 929.23 L172.09 929.38 L174.57 929.53 L177.06 929.67 L179.54 929.82 L182.02 929.96 L184.51 930.11 L187.00 930.26 L189.48 930.41 L191.97 930.56 L194.46 930.71 L196.94 930.86 L199.43 931.02 L201.92 931.18 L204.41 931.35 L206.90 931.52 L209.38 931.69 L211.87 931.87 L214.36 932.05 L216.85 932.24 L219.33 932.44 L221.82 932.64 L224.30 932.85 L226.79 933.07 L229.27 933.29 L231.75 933.53 L234.24 933.77 L236.72 934.02 L239.20 934.28 L241.67 934.55 L244.15 934.84 L246.63 935.13 L249.10 935.43 L251.57 935.75 L254.04 936.08 L256.51 936.42 L258.98 936.77 L261.44 937.14 L263.90 937.52 L266.36 937.91 L268.82 938.32 L271.28 938.74 L273.73 939.18 L276.18 939.64 L278.63 940.11 L281.07 940.60 L283.51 941.10 L285.95 941.62 L288.39 942.16 L290.82 942.72 L293.25 943.30 L295.68 943.90 L298.10 944.51 L300.52 945.15 L302.94 945.80 L305.35 946.48 L307.76 947.18 L310.16 947.90 L312.55 948.65 L314.93 949.43 L317.30 950.24 L319.65 951.09 L321.98 951.97 L324.29 952.89 L326.58 953.85 L328.84 954.86 L331.07 955.91 L333.27 957.01 L335.43 958.17 L337.56 959.38 L339.65 960.64 L341.69 961.97 L343.70 963.36 L345.65 964.81 L347.56 966.33 L349.42 967.91 L351.24 969.55 L353.01 971.24 L354.74 972.98 L356.42 974.77 L358.07 976.60 L359.67 978.47 L361.24 980.39 L362.77 982.33 L364.26 984.30 L365.72 986.30 L367.14 988.33 L368.52 990.38 L369.88 992.45 L371.20 994.55 L372.49 996.67 L373.74 998.80 L374.97 1000.96 L376.17 1003.14 L377.33 1005.34 L378.47 1007.55 L379.58 1009.79 L380.66 1012.04 L381.72 1014.30 L382.75 1016.58 L383.76 1018.87 L384.74 1021.18 L385.70 1023.50 L386.63 1025.83 L387.54 1028.17 L388.43 1030.53 L389.30 1032.89 L390.15 1035.26 L390.98 1037.64 L391.80 1040.03 L392.59 1042.42 L393.36 1044.82 L394.12 1047.22 L394.87 1049.63 L395.59 1052.04 L396.31 1054.45 L397.01 1056.86 L397.69 1059.28 L398.37 1061.69 L399.03 1064.11 L399.68 1066.53 L400.32 1068.94 L400.95 1071.36 L401.57 1073.77 L402.17 1076.19 L402.77 1078.60 L403.36 1081.02 L403.95 1083.43 L404.52 1085.85 L405.09 1088.26 L405.65 1090.68 L406.20 1093.09 L406.75 1095.51 L407.29 1097.92 L407.82 1100.33 L408.35 1102.75 L408.88 1105.16 L409.40 1107.58 L409.92 1109.99 L410.44 1112.40 L410.95 1114.82 L411.46 1117.23 L411.97 1119.64 L412.48 1122.05 L412.98 1124.47 L413.49 1126.88 L413.99 1129.29 L414.50 1131.70 L415.00 1134.12 L415.50 1136.53 L416.00 1138.94 L416.50 1141.36 L417.01 1143.77 L417.51 1146.18 L418.01 1148.60 L418.51 1151.01 L419.01 1153.43 L419.52 1155.84 L420.02 1158.26 L420.52 1160.68 L421.03 1163.09 L421.53 1165.51 L422.04 1167.93 L422.54 1170.35 L423.05 1172.77 L423.56 1175.19 L424.07 1177.62 L424.59 1180.04 L425.10 1182.47 L425.62 1184.90 L426.13 1187.32 L426.65 1189.75 L427.18 1192.18 L427.70 1194.62 L428.23 1197.05 L428.76 1199.49 L429.29 1201.92 L429.82 1204.36 L430.36 1206.80 L430.90 1209.24 L431.44 1211.69 L431.99 1214.13 L432.54 1216.58 L433.10 1219.03 L433.65 1221.48 L434.21 1223.94 L434.78 1226.39 L435.35 1228.85 L435.92 1231.31 L436.50 1233.77 L437.09 1236.23 L437.69 1238.68 L438.31 1241.14 L438.93 1243.58 L439.57 1246.03 L440.22 1248.47 L440.89 1250.90 L441.57 1253.32 L442.28 1255.74 L443.00 1258.15 L443.74 1260.54 L444.51 1262.93 L445.30 1265.30 L446.12 1267.66 L446.96 1270.01 L447.83 1272.34 L448.73 1274.65 L449.66 1276.95 L450.62 1279.23 L451.62 1281.49 L452.64 1283.74 L453.71 1285.96 L454.81 1288.16 L455.94 1290.34 L457.12 1292.50 L458.34 1294.63 L459.60 1296.74 L460.90 1298.82 L462.24 1300.87 L463.64 1302.90 L465.07 1304.90 L466.56 1306.86 L468.09 1308.79 L469.67 1310.68 L471.29 1312.53 L472.96 1314.33 L474.67 1316.09 L476.44 1317.80 L478.24 1319.45 L480.10 1321.04 L482.00 1322.58 L483.94 1324.05 L485.94 1325.46 L487.97 1326.79 L490.06 1328.06 L492.19 1329.25 L494.36 1330.37 L496.57 1331.41 L498.82 1332.39 L501.11 1333.31 L503.43 1334.16 L505.78 1334.96 L508.16 1335.70 L510.56 1336.38 L512.99 1337.02 L515.43 1337.60 L517.90 1338.14 L520.38 1338.64 L522.86 1339.10 L525.36 1339.51 L527.87 1339.90 L530.38 1340.25 L532.89 1340.58 L535.40 1340.87 L537.91 1341.14 L540.42 1341.39 L542.93 1341.61 L545.44 1341.81 L547.95 1342.00 L550.46 1342.16 L552.96 1342.30 L555.47 1342.43 L557.97 1342.55 L560.47 1342.65 L562.97 1342.74 L565.47 1342.82 L567.97 1342.88 L570.46 1342.94 L572.95 1343.00 L575.44 1343.05 L577.93 1343.09 L580.42 1343.13 L582.90 1343.17 L585.38 1343.21 L587.86 1343.25 L590.33 1343.29 L592.80 1343.34 L595.27 1343.39 L597.74 1343.45 L600.20 1343.52 L602.66 1343.60 L605.11 1343.69 L607.57 1343.79 L610.01 1343.90 L612.46 1344.03 L614.90 1344.17" fill="none" stroke="#ff0000" stroke-width="3.4" stroke-linejoin="round" clip-path="url(#cclip)"/>
<path d="M134.91 935.43 L137.15 935.60 L139.39 935.78 L141.62 935.95 L143.85 936.12 L146.09 936.28 L148.32 936.45 L150.54 936.61 L152.77 936.77 L154.99 936.93 L157.21 937.09 L159.43 937.25 L161.65 937.41 L163.87 937.57 L166.08 937.72 L168.29 937.88 L170.50 938.04 L172.71 938.19 L174.92 938.35 L177.12 938.51 L179.33 938.67 L181.53 938.83 L183.73 939.00 L185.93 939.16 L188.13 939.33 L190.32 939.50 L192.52 939.67 L194.71 939.85 L196.90 940.03 L199.09 940.21 L201.28 940.39 L203.47 940.58 L205.66 940.77 L207.84 940.97 L210.03 941.17 L212.21 941.37 L214.39 941.58 L216.57 941.80 L218.75 942.02 L220.93 942.25 L223.11 942.48 L225.28 942.71 L227.46 942.96 L229.63 943.21 L231.81 943.46 L233.98 943.73 L236.15 944.00 L238.32 944.28 L240.49 944.56 L242.66 944.85 L244.83 945.16 L246.99 945.46 L249.16 945.78 L251.33 946.11 L253.49 946.44 L255.66 946.79 L257.82 947.14 L259.98 947.50 L262.15 947.88 L264.31 948.26 L266.47 948.65 L268.63 949.06 L270.79 949.47 L272.95 949.90 L275.11 950.33 L277.27 950.78 L279.43 951.24 L281.59 951.71 L283.75 952.19 L285.91 952.69 L288.06 953.20 L290.22 953.72 L292.38 954.25 L294.54 954.80 L296.69 955.36 L298.85 955.93 L301.01 956.52 L303.17 957.12 L305.32 957.74 L307.48 958.37 L309.64 959.01 L311.79 959.68 L313.94 960.35 L316.09 961.05 L318.24 961.75 L320.38 962.48 L322.51 963.22 L324.64 963.99 L326.76 964.76 L328.87 965.56 L330.98 966.38 L333.07 967.21 L335.16 968.07 L337.23 968.94 L339.29 969.84 L341.34 970.75 L343.38 971.69 L345.40 972.65 L347.41 973.63 L349.40 974.63 L351.37 975.65 L353.33 976.70 L355.27 977.77 L357.19 978.87 L359.10 979.99 L360.98 981.13 L362.84 982.30 L364.68 983.49 L366.49 984.71 L368.29 985.95 L370.06 987.22 L371.80 988.52 L373.52 989.84 L375.21 991.20 L376.88 992.58 L378.52 993.98 L380.13 995.42 L381.71 996.88 L383.27 998.36 L384.81 999.88 L386.31 1001.41 L387.80 1002.97 L389.26 1004.56 L390.69 1006.17 L392.10 1007.80 L393.49 1009.45 L394.85 1011.12 L396.19 1012.82 L397.50 1014.54 L398.80 1016.28 L400.07 1018.03 L401.32 1019.81 L402.54 1021.61 L403.75 1023.42 L404.93 1025.26 L406.10 1027.11 L407.24 1028.97 L408.36 1030.86 L409.46 1032.76 L410.54 1034.67 L411.61 1036.60 L412.65 1038.55 L413.68 1040.51 L414.68 1042.48 L415.67 1044.46 L416.64 1046.46 L417.59 1048.47 L418.53 1050.49 L419.44 1052.53 L420.35 1054.57 L421.23 1056.62 L422.10 1058.69 L422.95 1060.76 L423.79 1062.84 L424.61 1064.93 L425.41 1067.02 L426.21 1069.13 L426.98 1071.24 L427.75 1073.35 L428.50 1075.48 L429.23 1077.60 L429.95 1079.74 L430.66 1081.87 L431.36 1084.01 L432.04 1086.15 L432.72 1088.30 L433.38 1090.45 L434.03 1092.60 L434.66 1094.75 L435.29 1096.90 L435.91 1099.05 L436.51 1101.20 L437.11 1103.36 L437.69 1105.51 L438.27 1107.66 L438.84 1109.81 L439.40 1111.96 L439.94 1114.11 L440.48 1116.25 L441.02 1118.40 L441.54 1120.55 L442.05 1122.70 L442.56 1124.85 L443.06 1126.99 L443.55 1129.14 L444.04 1131.29 L444.52 1133.44 L444.99 1135.58 L445.45 1137.73 L445.91 1139.88 L446.36 1142.03 L446.81 1144.17 L447.25 1146.32 L447.68 1148.47 L448.11 1150.62 L448.53 1152.76 L448.95 1154.91 L449.37 1157.06 L449.78 1159.21 L450.18 1161.36 L450.58 1163.51 L450.98 1165.66 L451.38 1167.81 L451.77 1169.96 L452.15 1172.11 L452.54 1174.26 L452.92 1176.41 L453.30 1178.57 L453.68 1180.72 L454.05 1182.88 L454.43 1185.03 L454.80 1187.19 L455.17 1189.34 L455.53 1191.50 L455.90 1193.66 L456.27 1195.81 L456.64 1197.97 L457.00 1200.13 L457.37 1202.30 L457.73 1204.46 L458.10 1206.62 L458.46 1208.78 L458.83 1210.95 L459.20 1213.12 L459.57 1215.28 L459.94 1217.45 L460.31 1219.62 L460.68 1221.79 L461.06 1223.96 L461.43 1226.14 L461.81 1228.31 L462.20 1230.49 L462.58 1232.67 L462.97 1234.84 L463.36 1237.02 L463.76 1239.21 L464.16 1241.39 L464.56 1243.57 L464.97 1245.76 L465.38 1247.95 L465.79 1250.14 L466.21 1252.33 L466.64 1254.52 L467.07 1256.71 L467.50 1258.91 L467.94 1261.11 L468.39 1263.31 L468.85 1265.51 L469.30 1267.71 L469.77 1269.91 L470.24 1272.12 L470.72 1274.33 L471.22 1276.53 L471.72 1278.74 L472.23 1280.94 L472.77 1283.14 L473.31 1285.32 L473.88 1287.51 L474.47 1289.68 L475.08 1291.84 L475.71 1293.99 L476.37 1296.13 L477.06 1298.25 L477.77 1300.36 L478.52 1302.45 L479.30 1304.52 L480.11 1306.56 L480.96 1308.59 L481.84 1310.60 L482.77 1312.58 L483.74 1314.53 L484.74 1316.46 L485.80 1318.36 L486.90 1320.22 L488.05 1322.05 L489.26 1323.83 L490.52 1325.56 L491.84 1327.23 L493.22 1328.86 L494.67 1330.42 L496.18 1331.91 L497.75 1333.34 L499.38 1334.69 L501.07 1335.98 L502.82 1337.18 L504.63 1338.31 L506.50 1339.36 L508.42 1340.32 L510.40 1341.19 L512.42 1341.98 L514.50 1342.67 L516.63 1343.26 L518.81 1343.76 L521.04 1344.15 L523.31 1344.44 L525.63 1344.62 L528.00 1344.69 L530.40 1344.65 L532.85 1344.49 L535.34 1344.22" fill="none" stroke="#000" stroke-width="3.6" stroke-linejoin="round" clip-path="url(#cclip)"/>
<path d="M134.95 935.01 L137.09 935.11 L139.22 935.22 L141.35 935.33 L143.47 935.45 L145.59 935.56 L147.71 935.68 L149.82 935.81 L151.93 935.93 L154.04 936.06 L156.14 936.19 L158.24 936.32 L160.33 936.45 L162.42 936.59 L164.51 936.73 L166.60 936.88 L168.68 937.03 L170.76 937.18 L172.84 937.33 L174.91 937.49 L176.98 937.65 L179.05 937.82 L181.12 937.98 L183.19 938.16 L185.25 938.33 L187.31 938.51 L189.37 938.69 L191.43 938.88 L193.49 939.07 L195.54 939.26 L197.59 939.46 L199.64 939.66 L201.70 939.87 L203.74 940.08 L205.79 940.30 L207.84 940.51 L209.89 940.74 L211.93 940.97 L213.98 941.20 L216.02 941.43 L218.07 941.67 L220.11 941.92 L222.16 942.17 L224.20 942.43 L226.24 942.69 L228.29 942.95 L230.33 943.22 L232.38 943.50 L234.42 943.77 L236.47 944.06 L238.51 944.35 L240.56 944.64 L242.61 944.95 L244.66 945.25 L246.71 945.56 L248.76 945.88 L250.81 946.20 L252.86 946.53 L254.92 946.86 L256.97 947.20 L259.03 947.54 L261.09 947.89 L263.16 948.25 L265.22 948.61 L267.29 948.98 L269.35 949.35 L271.43 949.73 L273.50 950.12 L275.57 950.51 L277.65 950.91 L279.73 951.32 L281.82 951.73 L283.90 952.15 L285.99 952.57 L288.08 953.01 L290.17 953.45 L292.26 953.90 L294.35 954.36 L296.44 954.84 L298.53 955.32 L300.61 955.81 L302.69 956.32 L304.77 956.84 L306.85 957.37 L308.92 957.91 L310.99 958.47 L313.05 959.05 L315.11 959.63 L317.16 960.24 L319.21 960.86 L321.24 961.50 L323.27 962.15 L325.30 962.82 L327.31 963.52 L329.31 964.23 L331.31 964.96 L333.29 965.71 L335.26 966.48 L337.22 967.27 L339.17 968.08 L341.10 968.92 L343.02 969.78 L344.92 970.67 L346.81 971.58 L348.67 972.52 L350.52 973.48 L352.34 974.47 L354.15 975.49 L355.93 976.54 L357.69 977.62 L359.43 978.72 L361.15 979.86 L362.84 981.02 L364.51 982.21 L366.16 983.43 L367.78 984.67 L369.39 985.94 L370.97 987.23 L372.53 988.55 L374.07 989.90 L375.59 991.27 L377.09 992.66 L378.57 994.07 L380.03 995.51 L381.47 996.97 L382.88 998.45 L384.28 999.95 L385.66 1001.47 L387.02 1003.01 L388.35 1004.58 L389.67 1006.16 L390.97 1007.76 L392.26 1009.38 L393.52 1011.01 L394.76 1012.66 L395.99 1014.33 L397.20 1016.02 L398.39 1017.72 L399.56 1019.44 L400.71 1021.17 L401.85 1022.91 L402.97 1024.67 L404.07 1026.44 L405.16 1028.23 L406.23 1030.03 L407.28 1031.84 L408.32 1033.66 L409.34 1035.49 L410.34 1037.33 L411.33 1039.18 L412.30 1041.04 L413.26 1042.91 L414.20 1044.79 L415.13 1046.68 L416.04 1048.57 L416.93 1050.47 L417.82 1052.38 L418.68 1054.29 L419.54 1056.21 L420.38 1058.13 L421.20 1060.06 L422.02 1061.99 L422.81 1063.93 L423.60 1065.87 L424.37 1067.81 L425.13 1069.76 L425.88 1071.71 L426.61 1073.66 L427.33 1075.62 L428.04 1077.58 L428.73 1079.55 L429.41 1081.52 L430.08 1083.49 L430.74 1085.47 L431.39 1087.45 L432.03 1089.43 L432.65 1091.42 L433.26 1093.40 L433.86 1095.40 L434.45 1097.39 L435.03 1099.39 L435.60 1101.39 L436.15 1103.40 L436.70 1105.41 L437.23 1107.42 L437.76 1109.43 L438.27 1111.45 L438.78 1113.46 L439.27 1115.49 L439.76 1117.51 L440.23 1119.54 L440.70 1121.57 L441.15 1123.60 L441.60 1125.63 L442.04 1127.67 L442.46 1129.71 L442.88 1131.75 L443.30 1133.80 L443.70 1135.84 L444.09 1137.89 L444.48 1139.94 L444.85 1141.99 L445.22 1144.05 L445.58 1146.11 L445.94 1148.16 L446.28 1150.22 L446.62 1152.29 L446.95 1154.35 L447.28 1156.42 L447.59 1158.48 L447.90 1160.55 L448.21 1162.62 L448.50 1164.70 L448.79 1166.77 L449.07 1168.85 L449.35 1170.92 L449.62 1173.00 L449.89 1175.08 L450.15 1177.16 L450.40 1179.25 L450.65 1181.33 L450.89 1183.41 L451.13 1185.50 L451.36 1187.59 L451.58 1189.67 L451.81 1191.76 L452.02 1193.85 L452.23 1195.94 L452.44 1198.03 L452.65 1200.13 L452.84 1202.22 L453.04 1204.31 L453.23 1206.41 L453.42 1208.50 L453.60 1210.60 L453.78 1212.69 L453.96 1214.79 L454.13 1216.88 L454.30 1218.98 L454.47 1221.08 L454.64 1223.17 L454.80 1225.27 L454.96 1227.37 L455.11 1229.47 L455.27 1231.56 L455.42 1233.66 L455.57 1235.76 L455.72 1237.86 L455.87 1239.96 L456.01 1242.05 L456.15 1244.15 L456.30 1246.25 L456.44 1248.34 L456.58 1250.44 L456.72 1252.54 L456.86 1254.63 L456.99 1256.73 L457.13 1258.82 L457.27 1260.91 L457.40 1263.01 L457.54 1265.10 L457.68 1267.19 L457.81 1269.28 L457.95 1271.37 L458.09 1273.46 L458.23 1275.55 L458.36 1277.63 L458.50 1279.72 L458.64 1281.80 L458.79 1283.89 L458.93 1285.97 L459.07 1288.05 L459.22 1290.13 L459.37 1292.21 L459.52 1294.29 L459.67 1296.36 L459.82 1298.44 L459.98 1300.51 L460.13 1302.58 L460.29 1304.65 L460.46 1306.72 L460.62 1308.79 L460.79 1310.85 L460.96 1312.91 L461.14 1314.97 L461.32 1317.03 L461.50 1319.09 L461.69 1321.14 L461.87 1323.20 L462.07 1325.25 L462.26 1327.30 L462.47 1329.34 L462.67 1331.39 L462.88 1333.43 L463.10 1335.47 L463.32 1337.51 L463.54 1339.54 L463.77 1341.58 L464.00 1343.61 L464.24 1345.63" fill="none" stroke="#0000ff" stroke-width="3.6" stroke-linejoin="round" clip-path="url(#cclip)"/>
<line x1="133" y1="492.5" x2="133" y2="1350" stroke="#000" stroke-width="5" />
<line x1="664" y1="492.5" x2="664" y2="1350" stroke="#000" stroke-width="5" />
<line x1="130.5" y1="495" x2="666.5" y2="495" stroke="#000" stroke-width="5.2" />
<line x1="130.5" y1="920.7" x2="666.5" y2="920.7" stroke="#000" stroke-width="6.6" />
<line x1="130.5" y1="1346.8" x2="666.5" y2="1346.8" stroke="#000" stroke-width="5.4" />
<line x1="264.8" y1="497" x2="264.8" y2="505" stroke="#000" stroke-width="4" />
<line x1="264.8" y1="910.5" x2="264.8" y2="931" stroke="#000" stroke-width="4" />
<line x1="264.8" y1="1337.5" x2="264.8" y2="1345" stroke="#000" stroke-width="4" />
<line x1="397.3" y1="497" x2="397.3" y2="505" stroke="#000" stroke-width="4" />
<line x1="397.3" y1="910.5" x2="397.3" y2="931" stroke="#000" stroke-width="4" />
<line x1="397.3" y1="1337.5" x2="397.3" y2="1345" stroke="#000" stroke-width="4" />
<line x1="531" y1="497" x2="531" y2="505" stroke="#000" stroke-width="4" />
<line x1="531" y1="910.5" x2="531" y2="931" stroke="#000" stroke-width="4" />
<line x1="531" y1="1337.5" x2="531" y2="1345" stroke="#000" stroke-width="4" />
<line x1="135" y1="616.3" x2="143.5" y2="616.3" stroke="#000" stroke-width="4.2" />
<line x1="652.5" y1="616.3" x2="662" y2="616.3" stroke="#000" stroke-width="4.2" />
<line x1="135" y1="737.5" x2="143.5" y2="737.5" stroke="#000" stroke-width="4.2" />
<line x1="652.5" y1="737.5" x2="662" y2="737.5" stroke="#000" stroke-width="4.2" />
<line x1="135" y1="858.5" x2="143.5" y2="858.5" stroke="#000" stroke-width="4.2" />
<line x1="652.5" y1="858.5" x2="662" y2="858.5" stroke="#000" stroke-width="4.2" />
<line x1="135" y1="1006.3" x2="143.5" y2="1006.3" stroke="#000" stroke-width="4.2" />
<line x1="652.5" y1="1006.3" x2="662" y2="1006.3" stroke="#000" stroke-width="4.2" />
<line x1="135" y1="1090.8" x2="143.5" y2="1090.8" stroke="#000" stroke-width="4.2" />
<line x1="652.5" y1="1090.8" x2="662" y2="1090.8" stroke="#000" stroke-width="4.2" />
<line x1="135" y1="1176" x2="143.5" y2="1176" stroke="#000" stroke-width="4.2" />
<line x1="652.5" y1="1176" x2="662" y2="1176" stroke="#000" stroke-width="4.2" />
<line x1="135" y1="1261.3" x2="143.5" y2="1261.3" stroke="#000" stroke-width="4.2" />
<line x1="652.5" y1="1261.3" x2="662" y2="1261.3" stroke="#000" stroke-width="4.2" />
<line x1="263.2" y1="1087.5" x2="371.59538152474" y2="1167.5405802303658" stroke="#000" stroke-width="4.4" />
<polygon points="390.50,1181.50 361.47,1170.32 369.99,1166.35 371.27,1157.04" fill="#000"/>
<rect x="474.5" y="552" width="187" height="152.5" fill="#fff"/>
<rect x="477.5" y="554.5" width="92.8" height="148" fill="#a5a5a5"/>
<clipPath id="insclip"><rect x="477" y="554" width="185" height="148"/></clipPath>
<path d="M505.67 701.57 L506.02 700.88 L506.37 700.20 L506.71 699.51 L507.06 698.82 L507.40 698.13 L507.74 697.44 L508.07 696.74 L508.41 696.05 L508.75 695.35 L509.08 694.65 L509.41 693.95 L509.74 693.24 L510.07 692.54 L510.39 691.83 L510.72 691.12 L511.04 690.41 L511.36 689.70 L511.69 688.98 L512.01 688.27 L512.32 687.55 L512.64 686.83 L512.96 686.11 L513.27 685.39 L513.59 684.67 L513.90 683.95 L514.21 683.22 L514.52 682.49 L514.83 681.77 L515.14 681.04 L515.44 680.31 L515.75 679.58 L516.06 678.84 L516.36 678.11 L516.67 677.37 L516.97 676.64 L517.27 675.90 L517.57 675.16 L517.87 674.42 L518.17 673.69 L518.47 672.94 L518.77 672.20 L519.07 671.46 L519.37 670.72 L519.67 669.97 L519.97 669.23 L520.26 668.48 L520.56 667.74 L520.86 666.99 L521.15 666.24 L521.45 665.49 L521.74 664.75 L522.04 664.00 L522.33 663.25 L522.63 662.50 L522.92 661.75 L523.22 661.00 L523.51 660.24 L523.81 659.49 L524.10 658.74 L524.40 657.99 L524.70 657.23 L524.99 656.48 L525.29 655.73 L525.58 654.98 L525.88 654.22 L526.17 653.47 L526.47 652.71 L526.77 651.96 L527.07 651.21 L527.36 650.45 L527.66 649.70 L527.96 648.95 L528.26 648.19 L528.56 647.44 L528.86 646.69 L529.16 645.93 L529.46 645.18 L529.77 644.43 L530.07 643.68 L530.38 642.92 L530.68 642.17 L530.99 641.42 L531.29 640.67 L531.60 639.92 L531.91 639.17 L532.22 638.42 L532.53 637.67 L532.84 636.92 L533.15 636.17 L533.47 635.43 L533.78 634.68 L534.10 633.93 L534.42 633.19 L534.74 632.44 L535.06 631.70 L535.38 630.96 L535.70 630.21 L536.02 629.47 L536.35 628.73 L536.68 627.99 L537.00 627.25 L537.33 626.52 L537.67 625.78 L538.00 625.04 L538.33 624.31 L538.67 623.58 L539.01 622.84 L539.35 622.11 L539.69 621.38 L540.04 620.65 L540.38 619.93 L540.73 619.20 L541.08 618.48 L541.43 617.75 L541.78 617.03 L542.14 616.31 L542.49 615.59 L542.85 614.87 L543.22 614.16 L543.58 613.44 L543.95 612.73 L544.31 612.02 L544.68 611.31 L545.06 610.60 L545.43 609.89 L545.81 609.18 L546.19 608.48 L546.57 607.78 L546.96 607.08 L547.34 606.38 L547.73 605.69 L548.12 604.99 L548.52 604.30 L548.92 603.61 L549.32 602.92 L549.72 602.23 L550.13 601.55 L550.53 600.87 L550.95 600.19 L551.36 599.51 L551.78 598.83 L552.20 598.16 L552.62 597.49 L553.05 596.82 L553.47 596.15 L553.91 595.48 L554.34 594.82 L554.78 594.16 L555.22 593.50 L555.67 592.85 L556.11 592.20 L556.56 591.55 L557.02 590.90 L557.48 590.25 L557.94 589.61 L558.40 588.97 L558.87 588.33 L559.34 587.70 L559.82 587.07 L560.29 586.44 L560.78 585.81 L561.26 585.19 L561.75 584.56 L562.24 583.95 L562.74 583.33 L563.24 582.72 L563.74 582.11 L564.25 581.50 L564.76 580.90 L565.28 580.30 L565.80 579.70 L566.32 579.11 L566.85 578.52 L567.38 577.93 L567.92 577.34 L568.46 576.76 L569.00 576.18 L569.55 575.61 L570.10 575.04 L570.66 574.47 L571.22 573.91 L571.78 573.35 L572.35 572.79 L572.93 572.24 L573.50 571.70 L574.09 571.16 L574.67 570.62 L575.27 570.09 L575.86 569.57 L576.46 569.05 L577.07 568.54 L577.68 568.04 L578.29 567.54 L578.91 567.05 L579.54 566.56 L580.16 566.09 L580.80 565.62 L581.44 565.15 L582.08 564.70 L582.73 564.26 L583.38 563.82 L584.04 563.39 L584.70 562.97 L585.37 562.56 L586.05 562.16 L586.73 561.77 L587.41 561.38 L588.10 561.01 L588.79 560.65 L589.49 560.30 L590.20 559.96 L590.91 559.63 L591.63 559.31 L592.35 559.00 L593.07 558.70 L593.81 558.42 L594.55 558.14 L595.29 557.88 L596.04 557.63 L596.79 557.39 L597.55 557.16 L598.31 556.94 L599.08 556.72 L599.85 556.52 L600.62 556.33 L601.40 556.15 L602.19 555.98 L602.98 555.82 L603.77 555.67 L604.56 555.52 L605.36 555.38 L606.16 555.25 L606.97 555.13 L607.77 555.02 L608.58 554.92 L609.40 554.82 L610.21 554.73 L611.03 554.65 L611.85 554.57 L612.67 554.50 L613.50 554.43 L614.33 554.38 L615.15 554.33 L615.98 554.28 L616.82 554.24 L617.65 554.20 L618.48 554.17 L619.32 554.15 L620.15 554.13 L620.99 554.11 L621.83 554.10 L622.66 554.09 L623.50 554.09 L624.34 554.09 L625.18 554.09 L626.02 554.09 L626.85 554.10 L627.69 554.12 L628.53 554.13 L629.37 554.15 L630.20 554.17 L631.04 554.19 L631.87 554.21 L632.70 554.23 L633.53 554.26 L634.36 554.28 L635.19 554.31 L636.02 554.34 L636.84 554.37 L637.67 554.40 L638.49 554.42 L639.31 554.45 L640.12 554.48 L640.93 554.51 L641.74 554.53 L642.55 554.56 L643.36 554.58 L644.16 554.61 L644.96 554.63 L645.75 554.65 L646.54 554.66 L647.33 554.68 L648.11 554.69 L648.89 554.70 L649.67 554.71 L650.44 554.71 L651.21 554.71 L651.97 554.71 L652.73 554.70 L653.48 554.69 L654.23 554.68 L654.97 554.66 L655.71 554.63 L656.44 554.60 L657.17 554.57 L657.89 554.53 L658.61 554.49 L659.31 554.44 L660.02 554.38" fill="none" stroke="#000" stroke-width="3.5" stroke-linejoin="round" clip-path="url(#insclip)"/>
<path d="M494.67 701.82 L494.84 701.29 L495.01 700.75 L495.18 700.22 L495.35 699.68 L495.52 699.15 L495.70 698.61 L495.87 698.08 L496.04 697.54 L496.21 697.00 L496.38 696.47 L496.55 695.93 L496.72 695.39 L496.89 694.85 L497.06 694.32 L497.23 693.78 L497.41 693.24 L497.58 692.70 L497.75 692.16 L497.92 691.62 L498.09 691.08 L498.26 690.54 L498.43 690.00 L498.61 689.46 L498.78 688.92 L498.95 688.38 L499.12 687.84 L499.29 687.30 L499.47 686.76 L499.64 686.21 L499.81 685.67 L499.98 685.13 L500.16 684.59 L500.33 684.04 L500.50 683.50 L500.68 682.96 L500.85 682.42 L501.02 681.87 L501.20 681.33 L501.37 680.79 L501.55 680.24 L501.72 679.70 L501.89 679.15 L502.07 678.61 L502.24 678.06 L502.42 677.52 L502.60 676.98 L502.77 676.43 L502.95 675.89 L503.12 675.34 L503.30 674.79 L503.48 674.25 L503.65 673.70 L503.83 673.16 L504.01 672.61 L504.19 672.07 L504.36 671.52 L504.54 670.98 L504.72 670.43 L504.90 669.88 L505.08 669.34 L505.26 668.79 L505.44 668.25 L505.62 667.70 L505.80 667.15 L505.98 666.61 L506.16 666.06 L506.34 665.51 L506.52 664.97 L506.70 664.42 L506.89 663.87 L507.07 663.33 L507.25 662.78 L507.44 662.23 L507.62 661.69 L507.80 661.14 L507.99 660.60 L508.17 660.05 L508.36 659.50 L508.54 658.96 L508.73 658.41 L508.92 657.86 L509.10 657.32 L509.29 656.77 L509.48 656.22 L509.67 655.68 L509.86 655.13 L510.05 654.59 L510.23 654.04 L510.42 653.49 L510.62 652.95 L510.81 652.40 L511.00 651.86 L511.19 651.31 L511.38 650.77 L511.57 650.22 L511.77 649.68 L511.96 649.13 L512.16 648.59 L512.35 648.04 L512.55 647.50 L512.74 646.95 L512.94 646.41 L513.13 645.86 L513.33 645.32 L513.53 644.78 L513.73 644.23 L513.93 643.69 L514.13 643.15 L514.33 642.60 L514.53 642.06 L514.73 641.52 L514.93 640.97 L515.13 640.43 L515.34 639.89 L515.54 639.35 L515.74 638.81 L515.95 638.26 L516.15 637.72 L516.36 637.18 L516.57 636.64 L516.77 636.10 L516.98 635.56 L517.19 635.02 L517.40 634.48 L517.61 633.94 L517.82 633.40 L518.03 632.86 L518.24 632.32 L518.45 631.78 L518.67 631.25 L518.88 630.71 L519.10 630.17 L519.31 629.63 L519.53 629.09 L519.74 628.56 L519.96 628.02 L520.18 627.49 L520.40 626.95 L520.62 626.41 L520.84 625.88 L521.06 625.34 L521.28 624.81 L521.50 624.27 L521.72 623.74 L521.95 623.21 L522.17 622.67 L522.40 622.14 L522.62 621.61 L522.85 621.08 L523.08 620.55 L523.30 620.01 L523.53 619.48 L523.76 618.95 L523.99 618.42 L524.22 617.89 L524.46 617.36 L524.69 616.84 L524.92 616.31 L525.16 615.78 L525.39 615.25 L525.63 614.72 L525.87 614.20 L526.11 613.67 L526.34 613.15 L526.58 612.62 L526.83 612.10 L527.07 611.57 L527.31 611.05 L527.55 610.52 L527.80 610.00 L528.04 609.48 L528.29 608.96 L528.53 608.43 L528.78 607.91 L529.03 607.39 L529.28 606.87 L529.53 606.35 L529.78 605.84 L530.03 605.32 L530.29 604.80 L530.54 604.28 L530.80 603.76 L531.05 603.25 L531.31 602.73 L531.57 602.22 L531.83 601.70 L532.09 601.19 L532.35 600.68 L532.61 600.16 L532.87 599.65 L533.13 599.14 L533.40 598.63 L533.67 598.12 L533.93 597.61 L534.20 597.10 L534.47 596.59 L534.74 596.08 L535.01 595.57 L535.28 595.07 L535.55 594.56 L535.83 594.05 L536.10 593.55 L536.38 593.05 L536.66 592.54 L536.94 592.04 L537.21 591.54 L537.49 591.03 L537.78 590.53 L538.06 590.03 L538.34 589.53 L538.63 589.04 L538.91 588.54 L539.20 588.04 L539.49 587.54 L539.78 587.05 L540.07 586.56 L540.37 586.06 L540.66 585.57 L540.95 585.08 L541.25 584.59 L541.55 584.10 L541.85 583.61 L542.15 583.13 L542.45 582.64 L542.76 582.16 L543.07 581.68 L543.37 581.19 L543.68 580.71 L543.99 580.24 L544.31 579.76 L544.62 579.28 L544.94 578.81 L545.25 578.34 L545.57 577.86 L545.90 577.39 L546.22 576.93 L546.54 576.46 L546.87 576.00 L547.20 575.53 L547.53 575.07 L547.86 574.61 L548.20 574.15 L548.53 573.70 L548.87 573.24 L549.21 572.79 L549.56 572.34 L549.90 571.89 L550.25 571.44 L550.60 571.00 L550.95 570.56 L551.30 570.12 L551.66 569.68 L552.02 569.24 L552.38 568.81 L552.74 568.37 L553.11 567.94 L553.47 567.52 L553.84 567.09 L554.22 566.67 L554.59 566.25 L554.97 565.83 L555.35 565.41 L555.73 565.00 L556.11 564.59 L556.50 564.18 L556.89 563.77 L557.28 563.37 L557.68 562.97 L558.08 562.57 L558.48 562.17 L558.88 561.78 L559.29 561.39 L559.69 561.00 L560.11 560.62 L560.52 560.24 L560.94 559.86 L561.36 559.48 L561.78 559.11 L562.21 558.74 L562.63 558.37 L563.07 558.00 L563.50 557.64 L563.94 557.28 L564.38 556.93 L564.82 556.57 L565.27 556.23 L565.72 555.88 L566.17 555.54 L566.63 555.20 L567.09 554.86 L567.55 554.53 L568.02 554.20 L568.49 553.87 L568.96 553.55 L569.43 553.23 L569.91 552.91 L570.39 552.60 L570.88 552.29 L571.37 551.98" fill="none" stroke="#0000ff" stroke-width="3.5" stroke-linejoin="round" clip-path="url(#insclip)"/>
<path d="M477.92 702.15 L478.16 701.37 L478.41 700.58 L478.65 699.79 L478.90 699.00 L479.15 698.21 L479.40 697.42 L479.65 696.63 L479.91 695.84 L480.16 695.04 L480.42 694.24 L480.68 693.45 L480.94 692.65 L481.20 691.85 L481.47 691.05 L481.73 690.25 L482.00 689.45 L482.27 688.65 L482.54 687.84 L482.81 687.04 L483.09 686.23 L483.37 685.43 L483.64 684.62 L483.92 683.82 L484.21 683.01 L484.49 682.20 L484.78 681.40 L485.07 680.59 L485.36 679.78 L485.65 678.97 L485.94 678.16 L486.24 677.35 L486.53 676.54 L486.83 675.73 L487.14 674.92 L487.44 674.12 L487.75 673.31 L488.06 672.50 L488.37 671.69 L488.68 670.88 L488.99 670.07 L489.31 669.26 L489.63 668.45 L489.95 667.65 L490.27 666.84 L490.60 666.03 L490.93 665.22 L491.26 664.42 L491.59 663.61 L491.92 662.81 L492.26 662.00 L492.60 661.20 L492.94 660.40 L493.29 659.59 L493.63 658.79 L493.98 657.99 L494.33 657.19 L494.69 656.39 L495.04 655.60 L495.40 654.80 L495.76 654.00 L496.13 653.21 L496.50 652.42 L496.86 651.62 L497.24 650.83 L497.61 650.04 L497.99 649.25 L498.37 648.47 L498.75 647.68 L499.13 646.90 L499.52 646.12 L499.91 645.33 L500.30 644.55 L500.70 643.78 L501.09 643.00 L501.50 642.23 L501.90 641.45 L502.31 640.68 L502.71 639.91 L503.13 639.15 L503.54 638.38 L503.96 637.62 L504.38 636.86 L504.80 636.10 L505.23 635.34 L505.66 634.58 L506.09 633.83 L506.53 633.08 L506.96 632.33 L507.41 631.59 L507.85 630.84 L508.30 630.10 L508.75 629.36 L509.20 628.63 L509.66 627.89 L510.12 627.16 L510.58 626.43 L511.04 625.71 L511.51 624.98 L511.98 624.26 L512.46 623.55 L512.94 622.83 L513.42 622.12 L513.90 621.41 L514.39 620.71 L514.88 620.00 L515.38 619.30 L515.88 618.61 L516.38 617.91 L516.88 617.22 L517.39 616.53 L517.90 615.85 L518.41 615.17 L518.93 614.49 L519.45 613.82 L519.98 613.15 L520.51 612.48 L521.04 611.82 L521.57 611.16 L522.11 610.50 L522.65 609.85 L523.20 609.20 L523.75 608.55 L524.30 607.91 L524.86 607.27 L525.42 606.64 L525.98 606.01 L526.55 605.39 L527.12 604.76 L527.69 604.15 L528.27 603.53 L528.85 602.92 L529.44 602.32 L530.03 601.72 L530.62 601.12 L531.22 600.53 L531.82 599.94 L532.42 599.35 L533.03 598.78 L533.65 598.20 L534.26 597.63 L534.88 597.06 L535.50 596.50 L536.13 595.95 L536.76 595.39 L537.40 594.84 L538.03 594.30 L538.68 593.76 L539.32 593.23 L539.97 592.70 L540.62 592.17 L541.28 591.65 L541.94 591.13 L542.60 590.62 L543.27 590.11 L543.94 589.61 L544.61 589.11 L545.28 588.62 L545.96 588.13 L546.65 587.64 L547.33 587.16 L548.02 586.68 L548.72 586.21 L549.41 585.75 L550.11 585.28 L550.82 584.83 L551.52 584.37 L552.23 583.93 L552.94 583.48 L553.66 583.04 L554.38 582.61 L555.10 582.18 L555.82 581.75 L556.55 581.33 L557.28 580.92 L558.02 580.51 L558.75 580.10 L559.49 579.70 L560.23 579.30 L560.98 578.91 L561.73 578.52 L562.48 578.14 L563.23 577.76 L563.99 577.38 L564.75 577.01 L565.51 576.65 L566.28 576.29 L567.05 575.94 L567.82 575.59 L568.59 575.24 L569.37 574.90 L570.15 574.56 L570.93 574.23 L571.71 573.91 L572.50 573.58 L573.29 573.27 L574.08 572.95 L574.87 572.65 L575.67 572.34 L576.46 572.04 L577.27 571.75 L578.07 571.46 L578.87 571.17 L579.68 570.89 L580.49 570.61 L581.30 570.34 L582.11 570.07 L582.93 569.81 L583.75 569.54 L584.56 569.29 L585.38 569.04 L586.21 568.79 L587.03 568.54 L587.86 568.30 L588.69 568.07 L589.51 567.84 L590.35 567.61 L591.18 567.38 L592.01 567.16 L592.85 566.95 L593.69 566.74 L594.52 566.53 L595.36 566.32 L596.20 566.12 L597.05 565.92 L597.89 565.73 L598.74 565.54 L599.58 565.35 L600.43 565.17 L601.28 564.99 L602.13 564.82 L602.98 564.64 L603.83 564.48 L604.68 564.31 L605.53 564.15 L606.39 563.99 L607.24 563.84 L608.10 563.68 L608.95 563.54 L609.81 563.39 L610.67 563.25 L611.53 563.11 L612.38 562.98 L613.24 562.84 L614.10 562.71 L614.96 562.59 L615.82 562.47 L616.69 562.35 L617.55 562.23 L618.41 562.12 L619.27 562.00 L620.13 561.90 L620.99 561.79 L621.86 561.69 L622.72 561.59 L623.58 561.49 L624.44 561.40 L625.31 561.31 L626.17 561.22 L627.03 561.14 L627.89 561.05 L628.75 560.97 L629.61 560.90 L630.48 560.82 L631.34 560.75 L632.20 560.68 L633.06 560.61 L633.92 560.55 L634.78 560.48 L635.64 560.42 L636.49 560.36 L637.35 560.31 L638.21 560.26 L639.06 560.21 L639.92 560.16 L640.77 560.11 L641.63 560.07 L642.48 560.02 L643.33 559.98 L644.18 559.95 L645.03 559.91 L645.88 559.88 L646.73 559.84 L647.58 559.82 L648.42 559.79 L649.27 559.76 L650.11 559.74 L650.95 559.72 L651.80 559.70 L652.64 559.68 L653.47 559.66 L654.31 559.65 L655.15 559.63 L655.98 559.62 L656.81 559.61 L657.64 559.60 L658.47 559.60 L659.30 559.59 L660.13 559.59 L660.95 559.59" fill="none" stroke="#ff0000" stroke-width="3.5" stroke-linejoin="round" clip-path="url(#insclip)"/>
<line x1="476" y1="552.5" x2="476" y2="704.5" stroke="#000" stroke-width="3" />
<line x1="474.5" y1="553.9" x2="662" y2="553.9" stroke="#000" stroke-width="2.9" />
<line x1="474.5" y1="703.1" x2="662" y2="703.1" stroke="#000" stroke-width="2.7" />
<line x1="570.2" y1="555" x2="570.2" y2="560" stroke="#000" stroke-width="3" />
<line x1="570.2" y1="697" x2="570.2" y2="702" stroke="#000" stroke-width="3" />
<text transform="translate(9.18,38.03) scale(0.8214,0.9655)" font-size="52" font-family='"Liberation Sans", sans-serif' font-weight="bold" fill="#000">a</text>
<text transform="translate(99.80,38.20) scale(1.0000,1.0708)" font-size="35" font-family='"Liberation Sans", sans-serif' font-weight="normal" fill="#000">J</text>
<text transform="translate(118.88,38.00) scale(1.0250,1.0000)" font-size="34" font-family='"Liberation Serif", serif' font-weight="normal" fill="#000" stroke="#fff" stroke-width="0.6">(<tspan font-style="italic">ω</tspan>)</text>
<text transform="translate(174.79,195.00) scale(1.0708,1.0652)" font-size="34" font-family='"Liberation Sans", sans-serif' font-weight="normal" fill="#ff0000">1D PCs</text>
<text transform="translate(175.94,354.70) scale(1.0609,1.0609)" font-size="34" font-family='"Liberation Sans", sans-serif' font-weight="normal" fill="#0000ff">3D PCs</text>
<text transform="translate(519.83,145.75) scale(1.0833,1.0978)" font-size="34" font-family='"Liberation Sans", sans-serif' font-weight="normal" fill="#000">2D PCs</text>
<text transform="translate(379.68,469.00) scale(1.0682,1.0000)" font-size="34" font-family='"Liberation Serif", serif' font-weight="normal" fill="#000" stroke="#fff" stroke-width="0.6"><tspan font-style="italic">ω</tspan><tspan font-size="24" stroke-width="0.15" font-style="italic" dy="6">e</tspan></text>
<text transform="translate(678.69,441.00) scale(1.0568,0.8750)" font-size="34" font-family='"Liberation Serif", serif' font-weight="normal" fill="#000" stroke="#fff" stroke-width="0.6"><tspan font-style="italic">ω</tspan></text>
<text transform="translate(6.81,508.55) scale(0.8981,0.9487)" font-size="52" font-family='"Liberation Sans", sans-serif' font-weight="bold" fill="#000">b</text>
<text transform="translate(50.72,511.60) scale(1.0273,1.0231)" font-size="36" font-family='"Liberation Sans", sans-serif' font-weight="normal" fill="#000">1.00</text>
<text transform="translate(51.38,632.00) scale(1.0176,1.0000)" font-size="36" font-family='"Liberation Sans", sans-serif' font-weight="normal" fill="#000">0.96</text>
<text transform="translate(51.17,752.50) scale(1.0269,0.9692)" font-size="36" font-family='"Liberation Sans", sans-serif' font-weight="normal" fill="#000">0.92</text>
<text transform="translate(51.18,873.50) scale(1.0176,1.0000)" font-size="36" font-family='"Liberation Sans", sans-serif' font-weight="normal" fill="#000">0.88</text>
<text transform="translate(8.78,928.61) scale(0.8600,0.8879)" font-size="52" font-family='"Liberation Sans", sans-serif' font-weight="bold" fill="#000">c</text>
<text transform="translate(73.91,935.30) scale(1.0304,1.0192)" font-size="36" font-family='"Liberation Sans", sans-serif' font-weight="normal" fill="#000">1.0</text>
<text transform="translate(73.98,1019.50) scale(1.0156,0.9808)" font-size="36" font-family='"Liberation Sans", sans-serif' font-weight="normal" fill="#000">0.8</text>
<text transform="translate(73.98,1104.50) scale(1.0156,0.9808)" font-size="36" font-family='"Liberation Sans", sans-serif' font-weight="normal" fill="#000">0.6</text>
<text transform="translate(73.98,1189.50) scale(1.0156,0.9615)" font-size="36" font-family='"Liberation Sans", sans-serif' font-weight="normal" fill="#000">0.4</text>
<text transform="translate(73.96,1275.50) scale(1.0372,0.9808)" font-size="36" font-family='"Liberation Sans", sans-serif' font-weight="normal" fill="#000">0.2</text>
<text transform="translate(73.98,1361.50) scale(1.0156,1.0000)" font-size="36" font-family='"Liberation Sans", sans-serif' font-weight="normal" fill="#000">0.0</text>
<text transform="translate(100.77,1384.73) scale(1.0647,0.9333)" font-size="36" font-family='"Liberation Sans", sans-serif' font-weight="normal" fill="#000">−</text>
<text transform="translate(124.14,1383.30) scale(1.0194,1.0000)" font-size="36" font-family='"Liberation Sans", sans-serif' font-weight="normal" fill="#000">10</text>
<text transform="translate(243.51,1384.37) scale(1.0471,0.8667)" font-size="36" font-family='"Liberation Sans", sans-serif' font-weight="normal" fill="#000">−</text>
<text transform="translate(266.71,1383.50) scale(0.9889,0.9962)" font-size="36" font-family='"Liberation Sans", sans-serif' font-weight="normal" fill="#000">5</text>
<text transform="translate(387.49,1383.30) scale(1.0056,1.0000)" font-size="36" font-family='"Liberation Sans", sans-serif' font-weight="normal" fill="#000">0</text>
<text transform="translate(520.30,1383.20) scale(1.0000,1.0115)" font-size="36" font-family='"Liberation Sans", sans-serif' font-weight="normal" fill="#000">5</text>
<text transform="translate(643.75,1383.60) scale(1.0167,1.0077)" font-size="36" font-family='"Liberation Sans", sans-serif' font-weight="normal" fill="#000">10</text>
<text transform="translate(363.00,1424.98) scale(1.0952,1.0594)" font-size="36" font-family='"Liberation Serif", serif' font-weight="normal" fill="#000" stroke="#fff" stroke-width="0.6"><tspan font-style="italic">δ/ω</tspan><tspan font-style="italic" font-size="26" stroke-width="0.15" dy="7">e</tspan></text>
<text transform="translate(556.41,1422.31) scale(0.9850,0.8128)" font-size="34" font-family='"Liberation Sans", sans-serif' font-weight="normal" fill="#000"><tspan font-family='"Liberation Serif", serif'>(</tspan>×10<tspan font-size="25" dy="-14">−2</tspan><tspan font-family='"Liberation Serif", serif' dy="14">)</tspan></text>
<text transform="translate(417.75,561.80) scale(1.1250,1.0471)" font-size="24" font-family='"Liberation Sans", sans-serif' font-weight="normal" fill="#000">1.00</text>
<text transform="translate(415.62,711.80) scale(1.1778,1.0118)" font-size="24" font-family='"Liberation Sans", sans-serif' font-weight="normal" fill="#000">0.99</text>
<text transform="translate(469.59,731.30) scale(1.0083,0.9765)" font-size="24" font-family='"Liberation Sans", sans-serif' font-weight="normal" fill="#000">0</text>
<text transform="translate(550.12,732.00) scale(1.1328,1.0735)" font-size="24" font-family='"Liberation Sans", sans-serif' font-weight="normal" fill="#000">2.5</text>
<text transform="translate(515.15,756.39) scale(1.0950,0.9722)" font-size="24" font-family='"Liberation Sans", sans-serif' font-weight="normal" fill="#000"><tspan font-family='"Liberation Serif", serif' font-style="italic">δ/ω<tspan font-size="17" dy="5">ε</tspan></tspan><tspan font-family='"Liberation Serif", serif' dy="-5"> (</tspan>×10<tspan font-size="16" dy="-10">−2</tspan><tspan font-family='"Liberation Serif", serif' dy="10">)</tspan></text>
<text transform="translate(469.80,826.25) scale(1.0977,1.0417)" font-size="26" font-family='"Liberation Sans", sans-serif' font-weight="normal" fill="#ff0000">1D PCs</text>
<text transform="translate(469.40,858.00) scale(1.1023,1.0278)" font-size="26" font-family='"Liberation Sans", sans-serif' font-weight="normal" fill="#000">2D PCs</text>
<text transform="translate(469.40,890.00) scale(1.1023,1.0417)" font-size="26" font-family='"Liberation Sans", sans-serif' font-weight="normal" fill="#0000ff">3D PCs</text>
<text transform="translate(180.47,1038.73) scale(1.0649,0.9533)" font-size="30.5" font-family='"Liberation Sans", sans-serif' font-weight="normal" fill="#000">Band Edge</text>
<text transform="translate(157.16,1073.19) scale(1.0682,0.9733)" font-size="30.5" font-family='"Liberation Sans", sans-serif' font-weight="normal" fill="#000">Regime <tspan font-family='"Liberation Serif", serif'>(</tspan>PBE<tspan font-family='"Liberation Serif", serif'>)</tspan></text>
<text transform="translate(174.35,1224.80) scale(1.0741,0.9913)" font-size="30.5" font-family='"Liberation Sans", sans-serif' font-weight="normal" fill="#000">Photonic</text>
<text transform="translate(164.24,1258.97) scale(1.0813,0.9333)" font-size="30.5" font-family='"Liberation Sans", sans-serif' font-weight="normal" fill="#000">Band Gap</text>
<text transform="translate(193.24,1295.00) scale(1.0566,1.0000)" font-size="30.5" font-family='"Liberation Sans", sans-serif' font-weight="normal" fill="#000"><tspan font-family='"Liberation Serif", serif'>(</tspan>PBG<tspan font-family='"Liberation Serif", serif'>)</tspan></text>
<text transform="translate(500.45,1109.50) scale(1.0767,0.9565)" font-size="30.5" font-family='"Liberation Sans", sans-serif' font-weight="normal" fill="#000">Photonic</text>
<text transform="translate(489.78,1143.77) scale(1.0601,0.8724)" font-size="30.5" font-family='"Liberation Sans", sans-serif' font-weight="normal" fill="#000">Band <tspan font-family='"Liberation Serif", serif'>(</tspan>PB<tspan font-family='"Liberation Serif", serif'>)</tspan></text>
<text transform="translate(34.76,776.76) rotate(-90) scale(1.1641,1.1484)" font-size="34" font-family='"Liberation Serif", serif' font-weight="normal" fill="#000" stroke="#fff" stroke-width="0.6"><tspan font-style="italic">ω</tspan><tspan font-size="24" stroke-width="0.15" font-style="italic" dy="6">b</tspan><tspan dy="-6">(</tspan><tspan font-style="italic">δ</tspan>)/<tspan font-style="italic">ω</tspan><tspan font-size="24" stroke-width="0.15" font-style="italic" dy="6">e</tspan></text>
<text transform="translate(36.20,1238.03) rotate(-90) scale(1.1782,1.1576)" font-size="35" font-family='"Liberation Sans", sans-serif' font-weight="normal" fill="#000" stroke="#fff" stroke-width="0.5">1/[1−<tspan font-family='"Liberation Serif", serif'>Σ'(<tspan font-style="italic">ω</tspan><tspan font-size="24" stroke-width="0.15" font-style="italic" dy="6">b</tspan><tspan dy="-6">)</tspan></tspan>]</text>
<text transform="translate(225.38,662.72) scale(1.3968) rotate(-42)" font-size="36" font-family='"Liberation Serif", serif' font-weight="normal" fill="#006a00" stroke="#fff" stroke-width="0.8"><tspan font-style="italic">ω</tspan></text>
<text transform="translate(253.65,644.52) scale(1.1510) rotate(-30)" font-size="30" font-family='"Liberation Serif", serif' font-weight="normal" fill="#006a00" stroke="#fff" stroke-width="0.6"><tspan font-style="italic">c</tspan></text>
</svg>
</body></html>
